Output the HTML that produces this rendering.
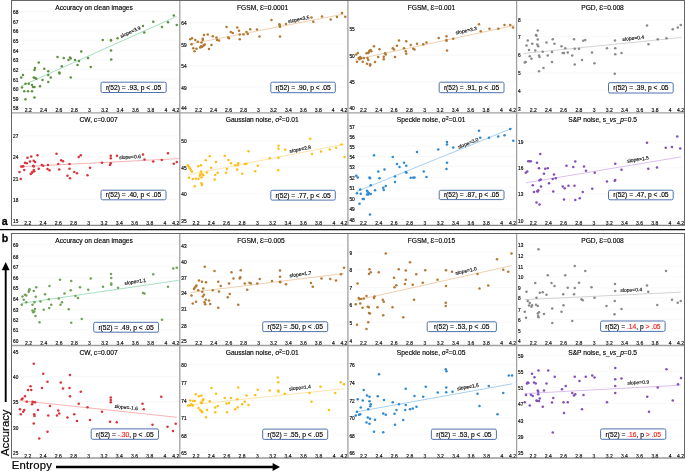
<!DOCTYPE html>
<html><head><meta charset="utf-8"><style>
html,body{margin:0;padding:0;background:#fff;width:685px;height:472px;overflow:hidden}
svg text{font-family:"Liberation Sans", sans-serif}
</style></head><body>
<svg width="685" height="472" viewBox="0 0 685 472" style="position:absolute;left:0;top:0;will-change:transform"><line x1="19.5" y1="11.6" x2="178.8" y2="11.6" stroke="#f7f7f7" stroke-width="0.7"/><line x1="19.5" y1="21.0" x2="178.8" y2="21.0" stroke="#f7f7f7" stroke-width="0.7"/><line x1="19.5" y1="30.9" x2="178.8" y2="30.9" stroke="#f7f7f7" stroke-width="0.7"/><line x1="19.5" y1="40.2" x2="178.8" y2="40.2" stroke="#f7f7f7" stroke-width="0.7"/><line x1="19.5" y1="50.1" x2="178.8" y2="50.1" stroke="#f7f7f7" stroke-width="0.7"/><line x1="19.5" y1="59.8" x2="178.8" y2="59.8" stroke="#f7f7f7" stroke-width="0.7"/><line x1="19.5" y1="69.4" x2="178.8" y2="69.4" stroke="#f7f7f7" stroke-width="0.7"/><line x1="19.5" y1="79.0" x2="178.8" y2="79.0" stroke="#f7f7f7" stroke-width="0.7"/><line x1="19.5" y1="88.1" x2="178.8" y2="88.1" stroke="#f7f7f7" stroke-width="0.7"/><line x1="19.5" y1="98.0" x2="178.8" y2="98.0" stroke="#f7f7f7" stroke-width="0.7"/><line x1="19.5" y1="107.9" x2="178.8" y2="107.9" stroke="#f7f7f7" stroke-width="0.7"/><text x="13.0" y="14.1" font-size="4.75" fill="#111" stroke="#111" stroke-width="0.18">68</text><text x="13.0" y="23.5" font-size="4.75" fill="#111" stroke="#111" stroke-width="0.18">67</text><text x="13.0" y="33.4" font-size="4.75" fill="#111" stroke="#111" stroke-width="0.18">66</text><text x="13.0" y="42.7" font-size="4.75" fill="#111" stroke="#111" stroke-width="0.18">65</text><text x="13.0" y="52.6" font-size="4.75" fill="#111" stroke="#111" stroke-width="0.18">64</text><text x="13.0" y="62.3" font-size="4.75" fill="#111" stroke="#111" stroke-width="0.18">63</text><text x="13.0" y="71.9" font-size="4.75" fill="#111" stroke="#111" stroke-width="0.18">62</text><text x="13.0" y="81.5" font-size="4.75" fill="#111" stroke="#111" stroke-width="0.18">61</text><text x="13.0" y="90.6" font-size="4.75" fill="#111" stroke="#111" stroke-width="0.18">60</text><text x="13.0" y="100.5" font-size="4.75" fill="#111" stroke="#111" stroke-width="0.18">59</text><text x="13.0" y="110.4" font-size="4.75" fill="#111" stroke="#111" stroke-width="0.18">58</text><text x="28.3" y="112.4" font-size="5.0" fill="#111" stroke="#111" stroke-width="0.18" text-anchor="middle">2.2</text><text x="43.6" y="112.4" font-size="5.0" fill="#111" stroke="#111" stroke-width="0.18" text-anchor="middle">2.4</text><text x="58.9" y="112.4" font-size="5.0" fill="#111" stroke="#111" stroke-width="0.18" text-anchor="middle">2.6</text><text x="74.2" y="112.4" font-size="5.0" fill="#111" stroke="#111" stroke-width="0.18" text-anchor="middle">2.8</text><text x="89.5" y="112.4" font-size="5.0" fill="#111" stroke="#111" stroke-width="0.18" text-anchor="middle">3</text><text x="104.8" y="112.4" font-size="5.0" fill="#111" stroke="#111" stroke-width="0.18" text-anchor="middle">3.2</text><text x="120.1" y="112.4" font-size="5.0" fill="#111" stroke="#111" stroke-width="0.18" text-anchor="middle">3.4</text><text x="135.4" y="112.4" font-size="5.0" fill="#111" stroke="#111" stroke-width="0.18" text-anchor="middle">3.6</text><text x="150.7" y="112.4" font-size="5.0" fill="#111" stroke="#111" stroke-width="0.18" text-anchor="middle">3.8</text><text x="166.0" y="112.4" font-size="5.0" fill="#111" stroke="#111" stroke-width="0.18" text-anchor="middle">4</text><text x="175.8" y="112.4" font-size="5.0" fill="#111" stroke="#111" stroke-width="0.18" text-anchor="middle">4.2</text><text x="94.1" y="9.8" font-size="6.65" fill="#000" text-anchor="middle" stroke="#000" stroke-width="0.15">Accuracy on clean images</text><line x1="20.8" y1="86.3" x2="176.5" y2="16.5" stroke="#8ed8b0" stroke-width="0.8"/><text x="130.5" y="33.60" font-size="5.0" fill="#111" stroke="#111" stroke-width="0.15" text-anchor="middle" transform="rotate(-24.1 130.5 32)">slope=3.9</text><circle cx="21.25" cy="77.5" r="1.28" fill="#5f9043"/><circle cx="23.0" cy="75.0" r="1.28" fill="#5f9043"/><circle cx="22.0" cy="87.5" r="1.28" fill="#5f9043"/><circle cx="25.5" cy="83.75" r="1.28" fill="#5f9043"/><circle cx="24.25" cy="91.25" r="1.28" fill="#5f9043"/><circle cx="28.0" cy="91.25" r="1.28" fill="#5f9043"/><circle cx="25.5" cy="99.25" r="1.28" fill="#5f9043"/><circle cx="28.75" cy="83.75" r="1.28" fill="#5f9043"/><circle cx="32.0" cy="85.0" r="1.28" fill="#5f9043"/><circle cx="32.0" cy="91.25" r="1.28" fill="#5f9043"/><circle cx="33.0" cy="87.0" r="1.28" fill="#5f9043"/><circle cx="34.5" cy="87.0" r="1.28" fill="#5f9043"/><circle cx="34.5" cy="97.5" r="1.28" fill="#5f9043"/><circle cx="33.75" cy="77.5" r="1.28" fill="#5f9043"/><circle cx="34.5" cy="70.0" r="1.28" fill="#5f9043"/><circle cx="35.0" cy="68.0" r="1.28" fill="#5f9043"/><circle cx="35.0" cy="78.0" r="1.28" fill="#5f9043"/><circle cx="36.25" cy="78.75" r="1.28" fill="#5f9043"/><circle cx="38.75" cy="62.5" r="1.28" fill="#5f9043"/><circle cx="40.0" cy="86.25" r="1.28" fill="#5f9043"/><circle cx="42.5" cy="80.0" r="1.28" fill="#5f9043"/><circle cx="44.25" cy="68.75" r="1.28" fill="#5f9043"/><circle cx="48.25" cy="71.25" r="1.28" fill="#5f9043"/><circle cx="48.25" cy="75.0" r="1.28" fill="#5f9043"/><circle cx="48.25" cy="82.0" r="1.28" fill="#5f9043"/><circle cx="50.75" cy="77.5" r="1.28" fill="#5f9043"/><circle cx="57.5" cy="57.0" r="1.28" fill="#5f9043"/><circle cx="59.25" cy="72.5" r="1.28" fill="#5f9043"/><circle cx="59.5" cy="73.5" r="1.28" fill="#5f9043"/><circle cx="61.75" cy="66.25" r="1.28" fill="#5f9043"/><circle cx="63.75" cy="58.0" r="1.28" fill="#5f9043"/><circle cx="68.5" cy="60.0" r="1.28" fill="#5f9043"/><circle cx="70.0" cy="57.5" r="1.28" fill="#5f9043"/><circle cx="70.75" cy="58.5" r="1.28" fill="#5f9043"/><circle cx="70.75" cy="77.5" r="1.28" fill="#5f9043"/><circle cx="75.0" cy="60.0" r="1.28" fill="#5f9043"/><circle cx="77.5" cy="65.0" r="1.28" fill="#5f9043"/><circle cx="79.0" cy="61.0" r="1.28" fill="#5f9043"/><circle cx="81.25" cy="51.5" r="1.28" fill="#5f9043"/><circle cx="88.0" cy="58.0" r="1.28" fill="#5f9043"/><circle cx="90.75" cy="67.0" r="1.28" fill="#5f9043"/><circle cx="102.75" cy="40.0" r="1.28" fill="#5f9043"/><circle cx="111.0" cy="40.5" r="1.28" fill="#5f9043"/><circle cx="111.0" cy="40.0" r="1.28" fill="#5f9043"/><circle cx="111.0" cy="50.5" r="1.28" fill="#5f9043"/><circle cx="111.25" cy="59.5" r="1.28" fill="#5f9043"/><circle cx="117.5" cy="38.25" r="1.28" fill="#5f9043"/><circle cx="143.0" cy="26.0" r="1.28" fill="#5f9043"/><circle cx="144.25" cy="32.5" r="1.28" fill="#5f9043"/><circle cx="153.25" cy="21.75" r="1.28" fill="#5f9043"/><circle cx="162.0" cy="27.0" r="1.28" fill="#5f9043"/><circle cx="168.0" cy="22.25" r="1.28" fill="#5f9043"/><circle cx="173.75" cy="15.5" r="1.28" fill="#5f9043"/><circle cx="176.75" cy="25.0" r="1.28" fill="#5f9043"/><rect x="101" y="82.2" width="65.2" height="10.3" rx="1.5" fill="#fff" stroke="#4f72ae" stroke-width="1"/><text x="133.6" y="89.8" font-size="6.7" fill="#000" text-anchor="middle" xml:space="preserve" stroke="#000" stroke-width="0.15">r(52) = .93, p &lt; .05</text><line x1="187.8" y1="22.6" x2="346.9" y2="22.6" stroke="#f7f7f7" stroke-width="0.7"/><line x1="187.8" y1="44.1" x2="346.9" y2="44.1" stroke="#f7f7f7" stroke-width="0.7"/><line x1="187.8" y1="65.7" x2="346.9" y2="65.7" stroke="#f7f7f7" stroke-width="0.7"/><line x1="187.8" y1="87.0" x2="346.9" y2="87.0" stroke="#f7f7f7" stroke-width="0.7"/><line x1="187.8" y1="107.9" x2="346.9" y2="107.9" stroke="#f7f7f7" stroke-width="0.7"/><text x="181.3" y="25.1" font-size="4.75" fill="#111" stroke="#111" stroke-width="0.18">64</text><text x="181.3" y="46.6" font-size="4.75" fill="#111" stroke="#111" stroke-width="0.18">59</text><text x="181.3" y="68.2" font-size="4.75" fill="#111" stroke="#111" stroke-width="0.18">54</text><text x="181.3" y="89.5" font-size="4.75" fill="#111" stroke="#111" stroke-width="0.18">49</text><text x="181.3" y="110.4" font-size="4.75" fill="#111" stroke="#111" stroke-width="0.18">44</text><text x="198.6" y="112.4" font-size="5.0" fill="#111" stroke="#111" stroke-width="0.18" text-anchor="middle">2.2</text><text x="213.6" y="112.4" font-size="5.0" fill="#111" stroke="#111" stroke-width="0.18" text-anchor="middle">2.4</text><text x="228.5" y="112.4" font-size="5.0" fill="#111" stroke="#111" stroke-width="0.18" text-anchor="middle">2.6</text><text x="243.5" y="112.4" font-size="5.0" fill="#111" stroke="#111" stroke-width="0.18" text-anchor="middle">2.8</text><text x="258.4" y="112.4" font-size="5.0" fill="#111" stroke="#111" stroke-width="0.18" text-anchor="middle">3</text><text x="273.4" y="112.4" font-size="5.0" fill="#111" stroke="#111" stroke-width="0.18" text-anchor="middle">3.2</text><text x="288.4" y="112.4" font-size="5.0" fill="#111" stroke="#111" stroke-width="0.18" text-anchor="middle">3.4</text><text x="303.3" y="112.4" font-size="5.0" fill="#111" stroke="#111" stroke-width="0.18" text-anchor="middle">3.6</text><text x="318.3" y="112.4" font-size="5.0" fill="#111" stroke="#111" stroke-width="0.18" text-anchor="middle">3.8</text><text x="333.2" y="112.4" font-size="5.0" fill="#111" stroke="#111" stroke-width="0.18" text-anchor="middle">4</text><text x="343.9" y="112.4" font-size="5.0" fill="#111" stroke="#111" stroke-width="0.18" text-anchor="middle">4.2</text><text x="262.6" y="9.8" font-size="6.65" fill="#000" text-anchor="middle" stroke="#000" stroke-width="0.15">FGSM, Ɛ=0.0001</text><line x1="189.8" y1="44.1" x2="344.3" y2="14" stroke="#ebc49a" stroke-width="0.8"/><text x="298.75" y="21.10" font-size="5.0" fill="#111" stroke="#111" stroke-width="0.15" text-anchor="middle" transform="rotate(-11.0 298.75 19.5)">slope=3.5</text><circle cx="190.25" cy="39.25" r="1.28" fill="#b27a35"/><circle cx="192.0" cy="38.25" r="1.28" fill="#b27a35"/><circle cx="191.5" cy="44.25" r="1.28" fill="#b27a35"/><circle cx="193.25" cy="48.25" r="1.28" fill="#b27a35"/><circle cx="194.5" cy="51.25" r="1.28" fill="#b27a35"/><circle cx="195.25" cy="40.0" r="1.28" fill="#b27a35"/><circle cx="196.5" cy="48.75" r="1.28" fill="#b27a35"/><circle cx="197.75" cy="41.75" r="1.28" fill="#b27a35"/><circle cx="200.25" cy="47.5" r="1.28" fill="#b27a35"/><circle cx="201.5" cy="42.5" r="1.28" fill="#b27a35"/><circle cx="202.0" cy="47.0" r="1.28" fill="#b27a35"/><circle cx="202.75" cy="40.0" r="1.28" fill="#b27a35"/><circle cx="202.75" cy="38.75" r="1.28" fill="#b27a35"/><circle cx="203.5" cy="45.75" r="1.28" fill="#b27a35"/><circle cx="204.0" cy="45.0" r="1.28" fill="#b27a35"/><circle cx="204.0" cy="35.0" r="1.28" fill="#b27a35"/><circle cx="204.75" cy="44.5" r="1.28" fill="#b27a35"/><circle cx="207.75" cy="34.5" r="1.28" fill="#b27a35"/><circle cx="209.0" cy="49.0" r="1.28" fill="#b27a35"/><circle cx="211.5" cy="45.0" r="1.28" fill="#b27a35"/><circle cx="212.75" cy="36.25" r="1.28" fill="#b27a35"/><circle cx="216.5" cy="37.5" r="1.28" fill="#b27a35"/><circle cx="217.0" cy="40.0" r="1.28" fill="#b27a35"/><circle cx="219.0" cy="40.5" r="1.28" fill="#b27a35"/><circle cx="226.5" cy="27.0" r="1.28" fill="#b27a35"/><circle cx="228.25" cy="37.5" r="1.28" fill="#b27a35"/><circle cx="229.0" cy="38.25" r="1.28" fill="#b27a35"/><circle cx="230.75" cy="32.0" r="1.28" fill="#b27a35"/><circle cx="232.75" cy="33.0" r="1.28" fill="#b27a35"/><circle cx="237.25" cy="27.5" r="1.28" fill="#b27a35"/><circle cx="239.0" cy="30.75" r="1.28" fill="#b27a35"/><circle cx="239.75" cy="34.5" r="1.28" fill="#b27a35"/><circle cx="239.75" cy="39.25" r="1.28" fill="#b27a35"/><circle cx="243.5" cy="34.5" r="1.28" fill="#b27a35"/><circle cx="246.5" cy="32.0" r="1.28" fill="#b27a35"/><circle cx="247.75" cy="34.0" r="1.28" fill="#b27a35"/><circle cx="250.25" cy="29.25" r="1.28" fill="#b27a35"/><circle cx="257.0" cy="29.5" r="1.28" fill="#b27a35"/><circle cx="259.5" cy="36.5" r="1.28" fill="#b27a35"/><circle cx="271.5" cy="20.0" r="1.28" fill="#b27a35"/><circle cx="279.5" cy="24.25" r="1.28" fill="#b27a35"/><circle cx="279.75" cy="25.75" r="1.28" fill="#b27a35"/><circle cx="280.0" cy="26.75" r="1.28" fill="#b27a35"/><circle cx="280.0" cy="36.5" r="1.28" fill="#b27a35"/><circle cx="286.0" cy="24.0" r="1.28" fill="#b27a35"/><circle cx="311.5" cy="17.5" r="1.28" fill="#b27a35"/><circle cx="313.25" cy="21.75" r="1.28" fill="#b27a35"/><circle cx="322.0" cy="16.5" r="1.28" fill="#b27a35"/><circle cx="330.75" cy="19.5" r="1.28" fill="#b27a35"/><circle cx="337.0" cy="17.0" r="1.28" fill="#b27a35"/><circle cx="342.0" cy="13.0" r="1.28" fill="#b27a35"/><circle cx="345.25" cy="16.75" r="1.28" fill="#b27a35"/><circle cx="279.75" cy="25.0" r="1.28" fill="#b27a35"/><circle cx="201.0" cy="46.25" r="1.28" fill="#b27a35"/><rect x="270.8" y="82.2" width="64.5" height="10.5" rx="1.5" fill="#fff" stroke="#4f72ae" stroke-width="1"/><text x="303.1" y="89.9" font-size="6.7" fill="#000" text-anchor="middle" xml:space="preserve" stroke="#000" stroke-width="0.15">r(52) = .90, p &lt; .05</text><line x1="355.9" y1="28.7" x2="515.6" y2="28.7" stroke="#f7f7f7" stroke-width="0.7"/><line x1="355.9" y1="55.2" x2="515.6" y2="55.2" stroke="#f7f7f7" stroke-width="0.7"/><line x1="355.9" y1="81.7" x2="515.6" y2="81.7" stroke="#f7f7f7" stroke-width="0.7"/><line x1="355.9" y1="107.9" x2="515.6" y2="107.9" stroke="#f7f7f7" stroke-width="0.7"/><text x="349.4" y="31.2" font-size="4.75" fill="#111" stroke="#111" stroke-width="0.18">55</text><text x="349.4" y="57.7" font-size="4.75" fill="#111" stroke="#111" stroke-width="0.18">50</text><text x="349.4" y="84.2" font-size="4.75" fill="#111" stroke="#111" stroke-width="0.18">45</text><text x="349.4" y="110.4" font-size="4.75" fill="#111" stroke="#111" stroke-width="0.18">40</text><text x="363.4" y="112.4" font-size="5.0" fill="#111" stroke="#111" stroke-width="0.18" text-anchor="middle">2.2</text><text x="378.7" y="112.4" font-size="5.0" fill="#111" stroke="#111" stroke-width="0.18" text-anchor="middle">2.4</text><text x="394.0" y="112.4" font-size="5.0" fill="#111" stroke="#111" stroke-width="0.18" text-anchor="middle">2.6</text><text x="409.4" y="112.4" font-size="5.0" fill="#111" stroke="#111" stroke-width="0.18" text-anchor="middle">2.8</text><text x="424.7" y="112.4" font-size="5.0" fill="#111" stroke="#111" stroke-width="0.18" text-anchor="middle">3</text><text x="440.0" y="112.4" font-size="5.0" fill="#111" stroke="#111" stroke-width="0.18" text-anchor="middle">3.2</text><text x="455.3" y="112.4" font-size="5.0" fill="#111" stroke="#111" stroke-width="0.18" text-anchor="middle">3.4</text><text x="470.6" y="112.4" font-size="5.0" fill="#111" stroke="#111" stroke-width="0.18" text-anchor="middle">3.6</text><text x="486.0" y="112.4" font-size="5.0" fill="#111" stroke="#111" stroke-width="0.18" text-anchor="middle">3.8</text><text x="501.3" y="112.4" font-size="5.0" fill="#111" stroke="#111" stroke-width="0.18" text-anchor="middle">4</text><text x="512.6" y="112.4" font-size="5.0" fill="#111" stroke="#111" stroke-width="0.18" text-anchor="middle">4.2</text><text x="431.4" y="9.8" font-size="6.65" fill="#000" text-anchor="middle" stroke="#000" stroke-width="0.15">FGSM, Ɛ=0.001</text><line x1="355.4" y1="59.6" x2="514.8" y2="25.3" stroke="#ebc49a" stroke-width="0.8"/><text x="466.25" y="32.35" font-size="5.0" fill="#111" stroke="#111" stroke-width="0.15" text-anchor="middle" transform="rotate(-12.1 466.25 30.75)">slope=3.3</text><circle cx="356.25" cy="54.5" r="1.28" fill="#b27a35"/><circle cx="357.75" cy="53.0" r="1.28" fill="#b27a35"/><circle cx="357.0" cy="61.75" r="1.28" fill="#b27a35"/><circle cx="358.75" cy="58.0" r="1.28" fill="#b27a35"/><circle cx="359.5" cy="59.25" r="1.28" fill="#b27a35"/><circle cx="360.25" cy="57.0" r="1.28" fill="#b27a35"/><circle cx="361.25" cy="58.25" r="1.28" fill="#b27a35"/><circle cx="362.75" cy="61.75" r="1.28" fill="#b27a35"/><circle cx="363.75" cy="58.0" r="1.28" fill="#b27a35"/><circle cx="366.5" cy="53.25" r="1.28" fill="#b27a35"/><circle cx="367.0" cy="63.75" r="1.28" fill="#b27a35"/><circle cx="367.5" cy="58.0" r="1.28" fill="#b27a35"/><circle cx="368.25" cy="53.0" r="1.28" fill="#b27a35"/><circle cx="368.25" cy="60.0" r="1.28" fill="#b27a35"/><circle cx="369.0" cy="51.75" r="1.28" fill="#b27a35"/><circle cx="369.5" cy="50.75" r="1.28" fill="#b27a35"/><circle cx="370.0" cy="65.5" r="1.28" fill="#b27a35"/><circle cx="370.25" cy="64.25" r="1.28" fill="#b27a35"/><circle cx="370.75" cy="50.0" r="1.28" fill="#b27a35"/><circle cx="371.25" cy="51.25" r="1.28" fill="#b27a35"/><circle cx="374.0" cy="46.25" r="1.28" fill="#b27a35"/><circle cx="375.0" cy="62.0" r="1.28" fill="#b27a35"/><circle cx="378.25" cy="57.0" r="1.28" fill="#b27a35"/><circle cx="379.5" cy="49.25" r="1.28" fill="#b27a35"/><circle cx="383.75" cy="59.25" r="1.28" fill="#b27a35"/><circle cx="383.75" cy="56.75" r="1.28" fill="#b27a35"/><circle cx="385.0" cy="53.25" r="1.28" fill="#b27a35"/><circle cx="385.75" cy="54.5" r="1.28" fill="#b27a35"/><circle cx="392.75" cy="48.25" r="1.28" fill="#b27a35"/><circle cx="394.0" cy="49.5" r="1.28" fill="#b27a35"/><circle cx="395.0" cy="57.0" r="1.28" fill="#b27a35"/><circle cx="397.0" cy="45.75" r="1.28" fill="#b27a35"/><circle cx="399.0" cy="40.5" r="1.28" fill="#b27a35"/><circle cx="404.0" cy="48.25" r="1.28" fill="#b27a35"/><circle cx="405.75" cy="51.25" r="1.28" fill="#b27a35"/><circle cx="406.25" cy="53.75" r="1.28" fill="#b27a35"/><circle cx="406.25" cy="41.25" r="1.28" fill="#b27a35"/><circle cx="410.75" cy="45.0" r="1.28" fill="#b27a35"/><circle cx="413.25" cy="48.75" r="1.28" fill="#b27a35"/><circle cx="414.5" cy="49.5" r="1.28" fill="#b27a35"/><circle cx="417.0" cy="43.75" r="1.28" fill="#b27a35"/><circle cx="423.25" cy="44.25" r="1.28" fill="#b27a35"/><circle cx="426.5" cy="42.5" r="1.28" fill="#b27a35"/><circle cx="438.75" cy="38.0" r="1.28" fill="#b27a35"/><circle cx="446.5" cy="36.25" r="1.28" fill="#b27a35"/><circle cx="446.5" cy="40.0" r="1.28" fill="#b27a35"/><circle cx="446.5" cy="40.75" r="1.28" fill="#b27a35"/><circle cx="447.0" cy="50.5" r="1.28" fill="#b27a35"/><circle cx="453.25" cy="38.75" r="1.28" fill="#b27a35"/><circle cx="479.0" cy="24.25" r="1.28" fill="#b27a35"/><circle cx="480.75" cy="31.25" r="1.28" fill="#b27a35"/><circle cx="489.5" cy="28.75" r="1.28" fill="#b27a35"/><circle cx="498.25" cy="28.75" r="1.28" fill="#b27a35"/><circle cx="504.5" cy="25.0" r="1.28" fill="#b27a35"/><circle cx="510.25" cy="25.0" r="1.28" fill="#b27a35"/><circle cx="513.0" cy="27.5" r="1.28" fill="#b27a35"/><rect x="439.2" y="82.2" width="64.8" height="10.5" rx="1.5" fill="#fff" stroke="#4f72ae" stroke-width="1"/><text x="471.6" y="89.9" font-size="6.7" fill="#000" text-anchor="middle" xml:space="preserve" stroke="#000" stroke-width="0.15">r(52) = .91, p &lt; .05</text><line x1="524.6" y1="19.7" x2="683.5" y2="19.7" stroke="#f7f7f7" stroke-width="0.7"/><line x1="524.6" y1="36.5" x2="683.5" y2="36.5" stroke="#f7f7f7" stroke-width="0.7"/><line x1="524.6" y1="54.8" x2="683.5" y2="54.8" stroke="#f7f7f7" stroke-width="0.7"/><line x1="524.6" y1="72.8" x2="683.5" y2="72.8" stroke="#f7f7f7" stroke-width="0.7"/><line x1="524.6" y1="90.0" x2="683.5" y2="90.0" stroke="#f7f7f7" stroke-width="0.7"/><line x1="524.6" y1="108.0" x2="683.5" y2="108.0" stroke="#f7f7f7" stroke-width="0.7"/><text x="518.1" y="22.2" font-size="4.75" fill="#111" stroke="#111" stroke-width="0.18">8</text><text x="518.1" y="39.0" font-size="4.75" fill="#111" stroke="#111" stroke-width="0.18">7</text><text x="518.1" y="57.3" font-size="4.75" fill="#111" stroke="#111" stroke-width="0.18">6</text><text x="518.1" y="75.3" font-size="4.75" fill="#111" stroke="#111" stroke-width="0.18">5</text><text x="518.1" y="92.5" font-size="4.75" fill="#111" stroke="#111" stroke-width="0.18">4</text><text x="518.1" y="110.5" font-size="4.75" fill="#111" stroke="#111" stroke-width="0.18">3</text><text x="533.2" y="112.4" font-size="5.0" fill="#111" stroke="#111" stroke-width="0.18" text-anchor="middle">2.2</text><text x="548.4" y="112.4" font-size="5.0" fill="#111" stroke="#111" stroke-width="0.18" text-anchor="middle">2.4</text><text x="563.6" y="112.4" font-size="5.0" fill="#111" stroke="#111" stroke-width="0.18" text-anchor="middle">2.6</text><text x="578.9" y="112.4" font-size="5.0" fill="#111" stroke="#111" stroke-width="0.18" text-anchor="middle">2.8</text><text x="594.1" y="112.4" font-size="5.0" fill="#111" stroke="#111" stroke-width="0.18" text-anchor="middle">3</text><text x="609.3" y="112.4" font-size="5.0" fill="#111" stroke="#111" stroke-width="0.18" text-anchor="middle">3.2</text><text x="624.5" y="112.4" font-size="5.0" fill="#111" stroke="#111" stroke-width="0.18" text-anchor="middle">3.4</text><text x="639.7" y="112.4" font-size="5.0" fill="#111" stroke="#111" stroke-width="0.18" text-anchor="middle">3.6</text><text x="655.0" y="112.4" font-size="5.0" fill="#111" stroke="#111" stroke-width="0.18" text-anchor="middle">3.8</text><text x="670.2" y="112.4" font-size="5.0" fill="#111" stroke="#111" stroke-width="0.18" text-anchor="middle">4</text><text x="680.5" y="112.4" font-size="5.0" fill="#111" stroke="#111" stroke-width="0.18" text-anchor="middle">4.2</text><text x="602.5" y="9.8" font-size="6.65" fill="#000" text-anchor="middle" stroke="#000" stroke-width="0.15">PGD, Ɛ=0.008</text><line x1="523.4" y1="53.5" x2="681.3" y2="37.5" stroke="#c8c8c8" stroke-width="0.8"/><text x="633.25" y="39.85" font-size="5.0" fill="#111" stroke="#111" stroke-width="0.15" text-anchor="middle" transform="rotate(-5.8 633.25 38.25)">slope=0.4</text><circle cx="524.75" cy="62.5" r="1.28" fill="#8a8a8a"/><circle cx="525.75" cy="62.0" r="1.28" fill="#8a8a8a"/><circle cx="526.5" cy="45.5" r="1.28" fill="#8a8a8a"/><circle cx="527.75" cy="40.5" r="1.28" fill="#8a8a8a"/><circle cx="529.0" cy="50.0" r="1.28" fill="#8a8a8a"/><circle cx="529.75" cy="56.25" r="1.28" fill="#8a8a8a"/><circle cx="531.5" cy="58.75" r="1.28" fill="#8a8a8a"/><circle cx="532.25" cy="43.75" r="1.28" fill="#8a8a8a"/><circle cx="535.25" cy="50.5" r="1.28" fill="#8a8a8a"/><circle cx="536.0" cy="35.0" r="1.28" fill="#8a8a8a"/><circle cx="536.5" cy="35.75" r="1.28" fill="#8a8a8a"/><circle cx="537.25" cy="44.5" r="1.28" fill="#8a8a8a"/><circle cx="537.75" cy="30.5" r="1.28" fill="#8a8a8a"/><circle cx="537.75" cy="39.5" r="1.28" fill="#8a8a8a"/><circle cx="538.25" cy="46.25" r="1.28" fill="#8a8a8a"/><circle cx="539.0" cy="55.5" r="1.28" fill="#8a8a8a"/><circle cx="539.5" cy="57.0" r="1.28" fill="#8a8a8a"/><circle cx="539.0" cy="71.25" r="1.28" fill="#8a8a8a"/><circle cx="542.75" cy="51.75" r="1.28" fill="#8a8a8a"/><circle cx="543.5" cy="68.0" r="1.28" fill="#8a8a8a"/><circle cx="546.5" cy="42.5" r="1.28" fill="#8a8a8a"/><circle cx="547.75" cy="55.5" r="1.28" fill="#8a8a8a"/><circle cx="552.0" cy="62.0" r="1.28" fill="#8a8a8a"/><circle cx="552.0" cy="52.0" r="1.28" fill="#8a8a8a"/><circle cx="552.75" cy="39.25" r="1.28" fill="#8a8a8a"/><circle cx="554.5" cy="43.75" r="1.28" fill="#8a8a8a"/><circle cx="561.5" cy="46.25" r="1.28" fill="#8a8a8a"/><circle cx="562.75" cy="53.0" r="1.28" fill="#8a8a8a"/><circle cx="564.0" cy="53.0" r="1.28" fill="#8a8a8a"/><circle cx="565.25" cy="48.25" r="1.28" fill="#8a8a8a"/><circle cx="567.75" cy="52.5" r="1.28" fill="#8a8a8a"/><circle cx="572.25" cy="55.5" r="1.28" fill="#8a8a8a"/><circle cx="574.0" cy="39.25" r="1.28" fill="#8a8a8a"/><circle cx="574.75" cy="48.75" r="1.28" fill="#8a8a8a"/><circle cx="574.75" cy="64.5" r="1.28" fill="#8a8a8a"/><circle cx="579.0" cy="48.75" r="1.28" fill="#8a8a8a"/><circle cx="582.0" cy="60.0" r="1.28" fill="#8a8a8a"/><circle cx="583.25" cy="40.75" r="1.28" fill="#8a8a8a"/><circle cx="585.25" cy="40.0" r="1.28" fill="#8a8a8a"/><circle cx="592.0" cy="52.5" r="1.28" fill="#8a8a8a"/><circle cx="594.5" cy="63.25" r="1.28" fill="#8a8a8a"/><circle cx="607.0" cy="48.25" r="1.28" fill="#8a8a8a"/><circle cx="615.0" cy="40.5" r="1.28" fill="#8a8a8a"/><circle cx="615.25" cy="48.25" r="1.28" fill="#8a8a8a"/><circle cx="615.25" cy="54.25" r="1.28" fill="#8a8a8a"/><circle cx="614.75" cy="73.75" r="1.28" fill="#8a8a8a"/><circle cx="621.5" cy="53.0" r="1.28" fill="#8a8a8a"/><circle cx="647.0" cy="25.5" r="1.28" fill="#8a8a8a"/><circle cx="648.5" cy="44.25" r="1.28" fill="#8a8a8a"/><circle cx="657.75" cy="39.25" r="1.28" fill="#8a8a8a"/><circle cx="666.5" cy="38.25" r="1.28" fill="#8a8a8a"/><circle cx="672.75" cy="29.25" r="1.28" fill="#8a8a8a"/><circle cx="677.75" cy="27.5" r="1.28" fill="#8a8a8a"/><circle cx="680.75" cy="25.0" r="1.28" fill="#8a8a8a"/><rect x="608.5" y="82.7" width="64.7" height="10.3" rx="1.5" fill="#fff" stroke="#4f72ae" stroke-width="1"/><text x="640.9" y="90.2" font-size="6.7" fill="#000" text-anchor="middle" xml:space="preserve" stroke="#000" stroke-width="0.15">r(52) = .39, p &lt; .05</text><line x1="19.5" y1="135.7" x2="178.8" y2="135.7" stroke="#f7f7f7" stroke-width="0.7"/><line x1="19.5" y1="156.9" x2="178.8" y2="156.9" stroke="#f7f7f7" stroke-width="0.7"/><line x1="19.5" y1="178.4" x2="178.8" y2="178.4" stroke="#f7f7f7" stroke-width="0.7"/><line x1="19.5" y1="199.4" x2="178.8" y2="199.4" stroke="#f7f7f7" stroke-width="0.7"/><line x1="19.5" y1="220.8" x2="178.8" y2="220.8" stroke="#f7f7f7" stroke-width="0.7"/><text x="13.0" y="138.2" font-size="4.75" fill="#111" stroke="#111" stroke-width="0.18">27</text><text x="13.0" y="159.4" font-size="4.75" fill="#111" stroke="#111" stroke-width="0.18">24</text><text x="13.0" y="180.9" font-size="4.75" fill="#111" stroke="#111" stroke-width="0.18">21</text><text x="13.0" y="201.9" font-size="4.75" fill="#111" stroke="#111" stroke-width="0.18">18</text><text x="13.0" y="223.3" font-size="4.75" fill="#111" stroke="#111" stroke-width="0.18">15</text><text x="27.7" y="224.9" font-size="5.0" fill="#111" stroke="#111" stroke-width="0.18" text-anchor="middle">2.2</text><text x="43.0" y="224.9" font-size="5.0" fill="#111" stroke="#111" stroke-width="0.18" text-anchor="middle">2.4</text><text x="58.2" y="224.9" font-size="5.0" fill="#111" stroke="#111" stroke-width="0.18" text-anchor="middle">2.6</text><text x="73.5" y="224.9" font-size="5.0" fill="#111" stroke="#111" stroke-width="0.18" text-anchor="middle">2.8</text><text x="88.7" y="224.9" font-size="5.0" fill="#111" stroke="#111" stroke-width="0.18" text-anchor="middle">3</text><text x="104.0" y="224.9" font-size="5.0" fill="#111" stroke="#111" stroke-width="0.18" text-anchor="middle">3.2</text><text x="119.3" y="224.9" font-size="5.0" fill="#111" stroke="#111" stroke-width="0.18" text-anchor="middle">3.4</text><text x="134.5" y="224.9" font-size="5.0" fill="#111" stroke="#111" stroke-width="0.18" text-anchor="middle">3.6</text><text x="149.8" y="224.9" font-size="5.0" fill="#111" stroke="#111" stroke-width="0.18" text-anchor="middle">3.8</text><text x="165.0" y="224.9" font-size="5.0" fill="#111" stroke="#111" stroke-width="0.18" text-anchor="middle">4</text><text x="175.8" y="224.9" font-size="5.0" fill="#111" stroke="#111" stroke-width="0.18" text-anchor="middle">4.2</text><text x="98.6" y="122.4" font-size="6.65" fill="#000" text-anchor="middle" stroke="#000" stroke-width="0.15">CW, c=0.007</text><line x1="19.6" y1="166.8" x2="178.8" y2="158.6" stroke="#f4a0a0" stroke-width="0.8"/><text x="130" y="158.60" font-size="5.0" fill="#111" stroke="#111" stroke-width="0.15" text-anchor="middle" transform="rotate(-2.9 130 157)">slope=0.6</text><circle cx="19.5" cy="172.0" r="1.28" fill="#d8363c"/><circle cx="20.75" cy="179.0" r="1.28" fill="#d8363c"/><circle cx="21.25" cy="166.5" r="1.28" fill="#d8363c"/><circle cx="22.5" cy="166.5" r="1.28" fill="#d8363c"/><circle cx="23.25" cy="166.25" r="1.28" fill="#d8363c"/><circle cx="24.25" cy="170.0" r="1.28" fill="#d8363c"/><circle cx="25.0" cy="162.75" r="1.28" fill="#d8363c"/><circle cx="26.75" cy="163.25" r="1.28" fill="#d8363c"/><circle cx="27.5" cy="157.75" r="1.28" fill="#d8363c"/><circle cx="30.0" cy="161.5" r="1.28" fill="#d8363c"/><circle cx="30.75" cy="174.0" r="1.28" fill="#d8363c"/><circle cx="31.25" cy="156.5" r="1.28" fill="#d8363c"/><circle cx="32.0" cy="172.75" r="1.28" fill="#d8363c"/><circle cx="32.5" cy="172.0" r="1.28" fill="#d8363c"/><circle cx="33.25" cy="165.75" r="1.28" fill="#d8363c"/><circle cx="33.75" cy="166.5" r="1.28" fill="#d8363c"/><circle cx="33.75" cy="160.75" r="1.28" fill="#d8363c"/><circle cx="33.75" cy="170.0" r="1.28" fill="#d8363c"/><circle cx="34.25" cy="171.25" r="1.28" fill="#d8363c"/><circle cx="35.0" cy="162.0" r="1.28" fill="#d8363c"/><circle cx="37.5" cy="155.25" r="1.28" fill="#d8363c"/><circle cx="38.75" cy="168.75" r="1.28" fill="#d8363c"/><circle cx="41.75" cy="165.0" r="1.28" fill="#d8363c"/><circle cx="43.25" cy="165.75" r="1.28" fill="#d8363c"/><circle cx="47.5" cy="169.0" r="1.28" fill="#d8363c"/><circle cx="48.0" cy="165.0" r="1.28" fill="#d8363c"/><circle cx="49.5" cy="170.25" r="1.28" fill="#d8363c"/><circle cx="56.5" cy="153.75" r="1.28" fill="#d8363c"/><circle cx="58.25" cy="164.0" r="1.28" fill="#d8363c"/><circle cx="59.25" cy="169.5" r="1.28" fill="#d8363c"/><circle cx="61.25" cy="160.25" r="1.28" fill="#d8363c"/><circle cx="63.0" cy="161.25" r="1.28" fill="#d8363c"/><circle cx="67.5" cy="175.75" r="1.28" fill="#d8363c"/><circle cx="69.5" cy="164.0" r="1.28" fill="#d8363c"/><circle cx="69.5" cy="168.75" r="1.28" fill="#d8363c"/><circle cx="70.0" cy="178.25" r="1.28" fill="#d8363c"/><circle cx="74.25" cy="172.0" r="1.28" fill="#d8363c"/><circle cx="77.0" cy="173.25" r="1.28" fill="#d8363c"/><circle cx="78.75" cy="157.0" r="1.28" fill="#d8363c"/><circle cx="80.75" cy="155.25" r="1.28" fill="#d8363c"/><circle cx="87.5" cy="175.25" r="1.28" fill="#d8363c"/><circle cx="90.0" cy="167.75" r="1.28" fill="#d8363c"/><circle cx="102.0" cy="162.75" r="1.28" fill="#d8363c"/><circle cx="110.75" cy="155.75" r="1.28" fill="#d8363c"/><circle cx="110.75" cy="158.25" r="1.28" fill="#d8363c"/><circle cx="110.75" cy="163.25" r="1.28" fill="#d8363c"/><circle cx="110.0" cy="165.0" r="1.28" fill="#d8363c"/><circle cx="117.0" cy="155.75" r="1.28" fill="#d8363c"/><circle cx="143.0" cy="154.5" r="1.28" fill="#d8363c"/><circle cx="144.5" cy="159.5" r="1.28" fill="#d8363c"/><circle cx="153.25" cy="161.5" r="1.28" fill="#d8363c"/><circle cx="161.75" cy="160.0" r="1.28" fill="#d8363c"/><circle cx="168.0" cy="153.25" r="1.28" fill="#d8363c"/><circle cx="173.75" cy="163.75" r="1.28" fill="#d8363c"/><circle cx="176.75" cy="162.0" r="1.28" fill="#d8363c"/><rect x="101" y="190.2" width="65.0" height="9.6" rx="1.5" fill="#fff" stroke="#4f72ae" stroke-width="1"/><text x="133.5" y="197.4" font-size="6.7" fill="#000" text-anchor="middle" xml:space="preserve" stroke="#000" stroke-width="0.15">r(52) = .40, p &lt; .05</text><line x1="187.8" y1="140.7" x2="346.9" y2="140.7" stroke="#f7f7f7" stroke-width="0.7"/><line x1="187.8" y1="167.0" x2="346.9" y2="167.0" stroke="#f7f7f7" stroke-width="0.7"/><line x1="187.8" y1="193.5" x2="346.9" y2="193.5" stroke="#f7f7f7" stroke-width="0.7"/><line x1="187.8" y1="220.2" x2="346.9" y2="220.2" stroke="#f7f7f7" stroke-width="0.7"/><text x="181.3" y="143.2" font-size="4.75" fill="#111" stroke="#111" stroke-width="0.18">50</text><text x="181.3" y="169.5" font-size="4.75" fill="#111" stroke="#111" stroke-width="0.18">45</text><text x="181.3" y="196.0" font-size="4.75" fill="#111" stroke="#111" stroke-width="0.18">40</text><text x="181.3" y="222.7" font-size="4.75" fill="#111" stroke="#111" stroke-width="0.18">35</text><text x="196.0" y="224.9" font-size="5.0" fill="#111" stroke="#111" stroke-width="0.18" text-anchor="middle">2.2</text><text x="211.3" y="224.9" font-size="5.0" fill="#111" stroke="#111" stroke-width="0.18" text-anchor="middle">2.4</text><text x="226.6" y="224.9" font-size="5.0" fill="#111" stroke="#111" stroke-width="0.18" text-anchor="middle">2.6</text><text x="242.0" y="224.9" font-size="5.0" fill="#111" stroke="#111" stroke-width="0.18" text-anchor="middle">2.8</text><text x="257.3" y="224.9" font-size="5.0" fill="#111" stroke="#111" stroke-width="0.18" text-anchor="middle">3</text><text x="272.6" y="224.9" font-size="5.0" fill="#111" stroke="#111" stroke-width="0.18" text-anchor="middle">3.2</text><text x="287.9" y="224.9" font-size="5.0" fill="#111" stroke="#111" stroke-width="0.18" text-anchor="middle">3.4</text><text x="303.2" y="224.9" font-size="5.0" fill="#111" stroke="#111" stroke-width="0.18" text-anchor="middle">3.6</text><text x="318.6" y="224.9" font-size="5.0" fill="#111" stroke="#111" stroke-width="0.18" text-anchor="middle">3.8</text><text x="333.9" y="224.9" font-size="5.0" fill="#111" stroke="#111" stroke-width="0.18" text-anchor="middle">4</text><text x="343.9" y="224.9" font-size="5.0" fill="#111" stroke="#111" stroke-width="0.18" text-anchor="middle">4.2</text><text x="262.2" y="122.4" font-size="6.65" fill="#000" text-anchor="middle" stroke="#000" stroke-width="0.15">Gaussian noise, σ<tspan font-size="4.6" dy="-2.3">2</tspan><tspan dy="2.3">=0.01</tspan></text><line x1="187.4" y1="175" x2="344.3" y2="144.2" stroke="#ffdc98" stroke-width="0.8"/><text x="300.25" y="150.85" font-size="5.0" fill="#111" stroke="#111" stroke-width="0.15" text-anchor="middle" transform="rotate(-11.1 300.25 149.25)">slope=2.8</text><circle cx="187.75" cy="165.25" r="1.28" fill="#fdbf1c"/><circle cx="189.0" cy="167.0" r="1.28" fill="#fdbf1c"/><circle cx="189.75" cy="168.25" r="1.28" fill="#fdbf1c"/><circle cx="190.75" cy="170.0" r="1.28" fill="#fdbf1c"/><circle cx="192.0" cy="171.5" r="1.28" fill="#fdbf1c"/><circle cx="189.0" cy="177.75" r="1.28" fill="#fdbf1c"/><circle cx="192.75" cy="179.0" r="1.28" fill="#fdbf1c"/><circle cx="194.75" cy="186.25" r="1.28" fill="#fdbf1c"/><circle cx="195.75" cy="178.75" r="1.28" fill="#fdbf1c"/><circle cx="198.25" cy="166.25" r="1.28" fill="#fdbf1c"/><circle cx="198.5" cy="178.75" r="1.28" fill="#fdbf1c"/><circle cx="199.75" cy="175.75" r="1.28" fill="#fdbf1c"/><circle cx="200.25" cy="174.5" r="1.28" fill="#fdbf1c"/><circle cx="201.0" cy="165.25" r="1.28" fill="#fdbf1c"/><circle cx="201.0" cy="171.5" r="1.28" fill="#fdbf1c"/><circle cx="201.5" cy="177.5" r="1.28" fill="#fdbf1c"/><circle cx="201.5" cy="183.25" r="1.28" fill="#fdbf1c"/><circle cx="202.0" cy="185.0" r="1.28" fill="#fdbf1c"/><circle cx="202.25" cy="174.0" r="1.28" fill="#fdbf1c"/><circle cx="203.25" cy="175.25" r="1.28" fill="#fdbf1c"/><circle cx="205.75" cy="160.25" r="1.28" fill="#fdbf1c"/><circle cx="207.0" cy="172.5" r="1.28" fill="#fdbf1c"/><circle cx="209.75" cy="156.25" r="1.28" fill="#fdbf1c"/><circle cx="211.0" cy="167.75" r="1.28" fill="#fdbf1c"/><circle cx="214.75" cy="179.5" r="1.28" fill="#fdbf1c"/><circle cx="215.25" cy="175.0" r="1.28" fill="#fdbf1c"/><circle cx="216.0" cy="162.0" r="1.28" fill="#fdbf1c"/><circle cx="217.75" cy="172.75" r="1.28" fill="#fdbf1c"/><circle cx="224.75" cy="155.75" r="1.28" fill="#fdbf1c"/><circle cx="226.0" cy="172.75" r="1.28" fill="#fdbf1c"/><circle cx="227.0" cy="169.0" r="1.28" fill="#fdbf1c"/><circle cx="228.5" cy="160.0" r="1.28" fill="#fdbf1c"/><circle cx="231.0" cy="163.25" r="1.28" fill="#fdbf1c"/><circle cx="235.25" cy="165.25" r="1.28" fill="#fdbf1c"/><circle cx="237.25" cy="169.5" r="1.28" fill="#fdbf1c"/><circle cx="237.75" cy="165.25" r="1.28" fill="#fdbf1c"/><circle cx="238.25" cy="163.25" r="1.28" fill="#fdbf1c"/><circle cx="242.25" cy="173.75" r="1.28" fill="#fdbf1c"/><circle cx="244.75" cy="164.0" r="1.28" fill="#fdbf1c"/><circle cx="246.5" cy="163.75" r="1.28" fill="#fdbf1c"/><circle cx="248.5" cy="151.25" r="1.28" fill="#fdbf1c"/><circle cx="255.25" cy="171.25" r="1.28" fill="#fdbf1c"/><circle cx="257.75" cy="165.75" r="1.28" fill="#fdbf1c"/><circle cx="269.75" cy="158.25" r="1.28" fill="#fdbf1c"/><circle cx="278.5" cy="145.75" r="1.28" fill="#fdbf1c"/><circle cx="278.5" cy="148.75" r="1.28" fill="#fdbf1c"/><circle cx="278.5" cy="157.75" r="1.28" fill="#fdbf1c"/><circle cx="278.25" cy="170.25" r="1.28" fill="#fdbf1c"/><circle cx="285.25" cy="149.75" r="1.28" fill="#fdbf1c"/><circle cx="310.25" cy="138.75" r="1.28" fill="#fdbf1c"/><circle cx="312.0" cy="154.0" r="1.28" fill="#fdbf1c"/><circle cx="321.0" cy="151.5" r="1.28" fill="#fdbf1c"/><circle cx="329.75" cy="149.5" r="1.28" fill="#fdbf1c"/><circle cx="336.0" cy="147.75" r="1.28" fill="#fdbf1c"/><circle cx="341.5" cy="144.5" r="1.28" fill="#fdbf1c"/><circle cx="344.5" cy="157.0" r="1.28" fill="#fdbf1c"/><rect x="270.8" y="190.3" width="64.5" height="9.8" rx="1.5" fill="#fff" stroke="#4f72ae" stroke-width="1"/><text x="303.1" y="197.6" font-size="6.7" fill="#000" text-anchor="middle" xml:space="preserve" stroke="#000" stroke-width="0.15">r(52) = .77, p &lt; .05</text><line x1="355.9" y1="126.5" x2="515.6" y2="126.5" stroke="#f7f7f7" stroke-width="0.7"/><line x1="355.9" y1="136.3" x2="515.6" y2="136.3" stroke="#f7f7f7" stroke-width="0.7"/><line x1="355.9" y1="146.1" x2="515.6" y2="146.1" stroke="#f7f7f7" stroke-width="0.7"/><line x1="355.9" y1="156.4" x2="515.6" y2="156.4" stroke="#f7f7f7" stroke-width="0.7"/><line x1="355.9" y1="166.2" x2="515.6" y2="166.2" stroke="#f7f7f7" stroke-width="0.7"/><line x1="355.9" y1="177.5" x2="515.6" y2="177.5" stroke="#f7f7f7" stroke-width="0.7"/><line x1="355.9" y1="187.8" x2="515.6" y2="187.8" stroke="#f7f7f7" stroke-width="0.7"/><line x1="355.9" y1="198.8" x2="515.6" y2="198.8" stroke="#f7f7f7" stroke-width="0.7"/><line x1="355.9" y1="208.7" x2="515.6" y2="208.7" stroke="#f7f7f7" stroke-width="0.7"/><line x1="355.9" y1="219.7" x2="515.6" y2="219.7" stroke="#f7f7f7" stroke-width="0.7"/><text x="349.4" y="129.0" font-size="4.75" fill="#111" stroke="#111" stroke-width="0.18">57</text><text x="349.4" y="138.8" font-size="4.75" fill="#111" stroke="#111" stroke-width="0.18">56</text><text x="349.4" y="148.6" font-size="4.75" fill="#111" stroke="#111" stroke-width="0.18">55</text><text x="349.4" y="158.9" font-size="4.75" fill="#111" stroke="#111" stroke-width="0.18">54</text><text x="349.4" y="168.7" font-size="4.75" fill="#111" stroke="#111" stroke-width="0.18">53</text><text x="349.4" y="180.0" font-size="4.75" fill="#111" stroke="#111" stroke-width="0.18">52</text><text x="349.4" y="190.3" font-size="4.75" fill="#111" stroke="#111" stroke-width="0.18">51</text><text x="349.4" y="201.3" font-size="4.75" fill="#111" stroke="#111" stroke-width="0.18">50</text><text x="349.4" y="211.2" font-size="4.75" fill="#111" stroke="#111" stroke-width="0.18">49</text><text x="349.4" y="222.2" font-size="4.75" fill="#111" stroke="#111" stroke-width="0.18">48</text><text x="363.4" y="224.9" font-size="5.0" fill="#111" stroke="#111" stroke-width="0.18" text-anchor="middle">2.2</text><text x="378.8" y="224.9" font-size="5.0" fill="#111" stroke="#111" stroke-width="0.18" text-anchor="middle">2.4</text><text x="394.1" y="224.9" font-size="5.0" fill="#111" stroke="#111" stroke-width="0.18" text-anchor="middle">2.6</text><text x="409.5" y="224.9" font-size="5.0" fill="#111" stroke="#111" stroke-width="0.18" text-anchor="middle">2.8</text><text x="424.8" y="224.9" font-size="5.0" fill="#111" stroke="#111" stroke-width="0.18" text-anchor="middle">3</text><text x="440.2" y="224.9" font-size="5.0" fill="#111" stroke="#111" stroke-width="0.18" text-anchor="middle">3.2</text><text x="455.6" y="224.9" font-size="5.0" fill="#111" stroke="#111" stroke-width="0.18" text-anchor="middle">3.4</text><text x="470.9" y="224.9" font-size="5.0" fill="#111" stroke="#111" stroke-width="0.18" text-anchor="middle">3.6</text><text x="486.3" y="224.9" font-size="5.0" fill="#111" stroke="#111" stroke-width="0.18" text-anchor="middle">3.8</text><text x="501.6" y="224.9" font-size="5.0" fill="#111" stroke="#111" stroke-width="0.18" text-anchor="middle">4</text><text x="512.6" y="224.9" font-size="5.0" fill="#111" stroke="#111" stroke-width="0.18" text-anchor="middle">4.2</text><text x="431.1" y="122.4" font-size="6.65" fill="#000" text-anchor="middle" stroke="#000" stroke-width="0.15">Speckle noise, σ<tspan font-size="4.6" dy="-2.3">2</tspan><tspan dy="2.3">=0.01</tspan></text><line x1="356.6" y1="191.5" x2="512.3" y2="128.2" stroke="#90c4ec" stroke-width="0.8"/><text x="468.25" y="144.85" font-size="5.0" fill="#111" stroke="#111" stroke-width="0.15" text-anchor="middle" transform="rotate(-22.1 468.25 143.25)">slope=3.0</text><circle cx="356.25" cy="175.75" r="1.28" fill="#2f8ad0"/><circle cx="357.75" cy="177.5" r="1.28" fill="#2f8ad0"/><circle cx="357.0" cy="193.25" r="1.28" fill="#2f8ad0"/><circle cx="359.5" cy="203.75" r="1.28" fill="#2f8ad0"/><circle cx="360.25" cy="189.5" r="1.28" fill="#2f8ad0"/><circle cx="360.75" cy="193.75" r="1.28" fill="#2f8ad0"/><circle cx="362.75" cy="199.0" r="1.28" fill="#2f8ad0"/><circle cx="363.75" cy="199.0" r="1.28" fill="#2f8ad0"/><circle cx="367.0" cy="190.75" r="1.28" fill="#2f8ad0"/><circle cx="367.0" cy="194.5" r="1.28" fill="#2f8ad0"/><circle cx="367.75" cy="192.0" r="1.28" fill="#2f8ad0"/><circle cx="368.25" cy="194.5" r="1.28" fill="#2f8ad0"/><circle cx="369.0" cy="193.25" r="1.28" fill="#2f8ad0"/><circle cx="369.5" cy="177.5" r="1.28" fill="#2f8ad0"/><circle cx="370.0" cy="178.25" r="1.28" fill="#2f8ad0"/><circle cx="370.75" cy="185.25" r="1.28" fill="#2f8ad0"/><circle cx="370.75" cy="194.0" r="1.28" fill="#2f8ad0"/><circle cx="370.0" cy="214.5" r="1.28" fill="#2f8ad0"/><circle cx="374.0" cy="155.25" r="1.28" fill="#2f8ad0"/><circle cx="375.0" cy="190.25" r="1.28" fill="#2f8ad0"/><circle cx="378.25" cy="171.5" r="1.28" fill="#2f8ad0"/><circle cx="379.5" cy="178.25" r="1.28" fill="#2f8ad0"/><circle cx="383.25" cy="187.75" r="1.28" fill="#2f8ad0"/><circle cx="383.75" cy="190.0" r="1.28" fill="#2f8ad0"/><circle cx="384.5" cy="169.5" r="1.28" fill="#2f8ad0"/><circle cx="385.75" cy="186.0" r="1.28" fill="#2f8ad0"/><circle cx="392.75" cy="157.0" r="1.28" fill="#2f8ad0"/><circle cx="395.0" cy="176.5" r="1.28" fill="#2f8ad0"/><circle cx="395.0" cy="182.0" r="1.28" fill="#2f8ad0"/><circle cx="397.0" cy="164.0" r="1.28" fill="#2f8ad0"/><circle cx="399.5" cy="167.0" r="1.28" fill="#2f8ad0"/><circle cx="404.0" cy="162.75" r="1.28" fill="#2f8ad0"/><circle cx="406.25" cy="165.75" r="1.28" fill="#2f8ad0"/><circle cx="405.75" cy="172.0" r="1.28" fill="#2f8ad0"/><circle cx="406.5" cy="172.75" r="1.28" fill="#2f8ad0"/><circle cx="410.75" cy="177.75" r="1.28" fill="#2f8ad0"/><circle cx="413.25" cy="177.75" r="1.28" fill="#2f8ad0"/><circle cx="414.5" cy="177.5" r="1.28" fill="#2f8ad0"/><circle cx="417.0" cy="152.0" r="1.28" fill="#2f8ad0"/><circle cx="423.75" cy="171.5" r="1.28" fill="#2f8ad0"/><circle cx="426.5" cy="177.0" r="1.28" fill="#2f8ad0"/><circle cx="438.25" cy="149.5" r="1.28" fill="#2f8ad0"/><circle cx="447.0" cy="142.0" r="1.28" fill="#2f8ad0"/><circle cx="447.0" cy="144.5" r="1.28" fill="#2f8ad0"/><circle cx="447.0" cy="162.75" r="1.28" fill="#2f8ad0"/><circle cx="446.5" cy="169.0" r="1.28" fill="#2f8ad0"/><circle cx="453.25" cy="147.5" r="1.28" fill="#2f8ad0"/><circle cx="479.0" cy="130.75" r="1.28" fill="#2f8ad0"/><circle cx="480.25" cy="137.75" r="1.28" fill="#2f8ad0"/><circle cx="489.0" cy="137.75" r="1.28" fill="#2f8ad0"/><circle cx="498.25" cy="136.5" r="1.28" fill="#2f8ad0"/><circle cx="504.5" cy="135.25" r="1.28" fill="#2f8ad0"/><circle cx="510.25" cy="129.0" r="1.28" fill="#2f8ad0"/><circle cx="513.25" cy="140.75" r="1.28" fill="#2f8ad0"/><rect x="439.2" y="190.3" width="64.8" height="9.3" rx="1.5" fill="#fff" stroke="#4f72ae" stroke-width="1"/><text x="471.6" y="197.3" font-size="6.7" fill="#000" text-anchor="middle" xml:space="preserve" stroke="#000" stroke-width="0.15">r(52) = .87, p &lt; .05</text><line x1="524.6" y1="141.9" x2="683.5" y2="141.9" stroke="#f7f7f7" stroke-width="0.7"/><line x1="524.6" y1="167.8" x2="683.5" y2="167.8" stroke="#f7f7f7" stroke-width="0.7"/><line x1="524.6" y1="193.7" x2="683.5" y2="193.7" stroke="#f7f7f7" stroke-width="0.7"/><line x1="524.6" y1="220.3" x2="683.5" y2="220.3" stroke="#f7f7f7" stroke-width="0.7"/><text x="518.1" y="144.4" font-size="4.75" fill="#111" stroke="#111" stroke-width="0.18">19</text><text x="518.1" y="170.3" font-size="4.75" fill="#111" stroke="#111" stroke-width="0.18">16</text><text x="518.1" y="196.2" font-size="4.75" fill="#111" stroke="#111" stroke-width="0.18">13</text><text x="518.1" y="222.8" font-size="4.75" fill="#111" stroke="#111" stroke-width="0.18">10</text><text x="533.2" y="224.9" font-size="5.0" fill="#111" stroke="#111" stroke-width="0.18" text-anchor="middle">2.2</text><text x="548.4" y="224.9" font-size="5.0" fill="#111" stroke="#111" stroke-width="0.18" text-anchor="middle">2.4</text><text x="563.6" y="224.9" font-size="5.0" fill="#111" stroke="#111" stroke-width="0.18" text-anchor="middle">2.6</text><text x="578.8" y="224.9" font-size="5.0" fill="#111" stroke="#111" stroke-width="0.18" text-anchor="middle">2.8</text><text x="594.0" y="224.9" font-size="5.0" fill="#111" stroke="#111" stroke-width="0.18" text-anchor="middle">3</text><text x="609.2" y="224.9" font-size="5.0" fill="#111" stroke="#111" stroke-width="0.18" text-anchor="middle">3.2</text><text x="624.4" y="224.9" font-size="5.0" fill="#111" stroke="#111" stroke-width="0.18" text-anchor="middle">3.4</text><text x="639.6" y="224.9" font-size="5.0" fill="#111" stroke="#111" stroke-width="0.18" text-anchor="middle">3.6</text><text x="654.8" y="224.9" font-size="5.0" fill="#111" stroke="#111" stroke-width="0.18" text-anchor="middle">3.8</text><text x="670.0" y="224.9" font-size="5.0" fill="#111" stroke="#111" stroke-width="0.18" text-anchor="middle">4</text><text x="680.5" y="224.9" font-size="5.0" fill="#111" stroke="#111" stroke-width="0.18" text-anchor="middle">4.2</text><text x="602.6" y="122.4" font-size="6.65" fill="#000" text-anchor="middle" stroke="#000" stroke-width="0.15">S&amp;P noise, s_<tspan font-style="italic">vs</tspan>_<tspan font-style="italic">p</tspan>=0.5</text><line x1="525.9" y1="182.8" x2="680.8" y2="156.9" stroke="#d0b0ec" stroke-width="0.8"/><text x="638" y="161.10" font-size="5.0" fill="#111" stroke="#111" stroke-width="0.15" text-anchor="middle" transform="rotate(-9.5 638 159.5)">slope=1.5</text><circle cx="525.75" cy="172.75" r="1.28" fill="#8350b8"/><circle cx="527.25" cy="171.5" r="1.28" fill="#8350b8"/><circle cx="528.25" cy="161.25" r="1.28" fill="#8350b8"/><circle cx="529.75" cy="161.25" r="1.28" fill="#8350b8"/><circle cx="530.75" cy="161.25" r="1.28" fill="#8350b8"/><circle cx="532.75" cy="185.25" r="1.28" fill="#8350b8"/><circle cx="534.0" cy="192.0" r="1.28" fill="#8350b8"/><circle cx="536.5" cy="202.5" r="1.28" fill="#8350b8"/><circle cx="537.0" cy="162.75" r="1.28" fill="#8350b8"/><circle cx="537.75" cy="191.5" r="1.28" fill="#8350b8"/><circle cx="538.25" cy="190.25" r="1.28" fill="#8350b8"/><circle cx="539.0" cy="168.25" r="1.28" fill="#8350b8"/><circle cx="539.5" cy="204.5" r="1.28" fill="#8350b8"/><circle cx="539.5" cy="180.25" r="1.28" fill="#8350b8"/><circle cx="540.25" cy="154.0" r="1.28" fill="#8350b8"/><circle cx="541.0" cy="186.5" r="1.28" fill="#8350b8"/><circle cx="540.75" cy="179.5" r="1.28" fill="#8350b8"/><circle cx="544.0" cy="173.75" r="1.28" fill="#8350b8"/><circle cx="545.25" cy="168.75" r="1.28" fill="#8350b8"/><circle cx="547.75" cy="168.25" r="1.28" fill="#8350b8"/><circle cx="549.0" cy="183.25" r="1.28" fill="#8350b8"/><circle cx="552.75" cy="179.0" r="1.28" fill="#8350b8"/><circle cx="553.25" cy="191.5" r="1.28" fill="#8350b8"/><circle cx="554.0" cy="174.5" r="1.28" fill="#8350b8"/><circle cx="555.75" cy="178.25" r="1.28" fill="#8350b8"/><circle cx="562.75" cy="186.5" r="1.28" fill="#8350b8"/><circle cx="564.0" cy="199.5" r="1.28" fill="#8350b8"/><circle cx="564.75" cy="188.25" r="1.28" fill="#8350b8"/><circle cx="566.5" cy="165.75" r="1.28" fill="#8350b8"/><circle cx="568.5" cy="185.75" r="1.28" fill="#8350b8"/><circle cx="573.25" cy="167.0" r="1.28" fill="#8350b8"/><circle cx="574.5" cy="185.75" r="1.28" fill="#8350b8"/><circle cx="575.25" cy="161.5" r="1.28" fill="#8350b8"/><circle cx="575.25" cy="200.0" r="1.28" fill="#8350b8"/><circle cx="579.75" cy="198.25" r="1.28" fill="#8350b8"/><circle cx="582.75" cy="192.0" r="1.28" fill="#8350b8"/><circle cx="584.0" cy="166.5" r="1.28" fill="#8350b8"/><circle cx="586.0" cy="170.75" r="1.28" fill="#8350b8"/><circle cx="592.25" cy="188.75" r="1.28" fill="#8350b8"/><circle cx="594.75" cy="172.75" r="1.28" fill="#8350b8"/><circle cx="607.0" cy="181.5" r="1.28" fill="#8350b8"/><circle cx="614.75" cy="180.75" r="1.28" fill="#8350b8"/><circle cx="615.25" cy="163.75" r="1.28" fill="#8350b8"/><circle cx="621.5" cy="169.75" r="1.28" fill="#8350b8"/><circle cx="647.0" cy="142.75" r="1.28" fill="#8350b8"/><circle cx="648.25" cy="168.75" r="1.28" fill="#8350b8"/><circle cx="657.0" cy="167.5" r="1.28" fill="#8350b8"/><circle cx="665.75" cy="147.75" r="1.28" fill="#8350b8"/><circle cx="672.0" cy="147.0" r="1.28" fill="#8350b8"/><circle cx="677.25" cy="136.5" r="1.28" fill="#8350b8"/><circle cx="680.25" cy="148.5" r="1.28" fill="#8350b8"/><circle cx="615.25" cy="180.0" r="1.28" fill="#8350b8"/><circle cx="537.25" cy="191.25" r="1.28" fill="#8350b8"/><rect x="608.5" y="190.2" width="64.7" height="9.6" rx="1.5" fill="#fff" stroke="#4f72ae" stroke-width="1"/><text x="640.9" y="197.4" font-size="6.7" fill="#000" text-anchor="middle" xml:space="preserve" stroke="#000" stroke-width="0.15">r(52) = .47, p &lt; .05</text><line x1="19.5" y1="244.6" x2="178.8" y2="244.6" stroke="#f7f7f7" stroke-width="0.7"/><line x1="19.5" y1="256.0" x2="178.8" y2="256.0" stroke="#f7f7f7" stroke-width="0.7"/><line x1="19.5" y1="266.3" x2="178.8" y2="266.3" stroke="#f7f7f7" stroke-width="0.7"/><line x1="19.5" y1="277.4" x2="178.8" y2="277.4" stroke="#f7f7f7" stroke-width="0.7"/><line x1="19.5" y1="287.8" x2="178.8" y2="287.8" stroke="#f7f7f7" stroke-width="0.7"/><line x1="19.5" y1="298.4" x2="178.8" y2="298.4" stroke="#f7f7f7" stroke-width="0.7"/><line x1="19.5" y1="309.5" x2="178.8" y2="309.5" stroke="#f7f7f7" stroke-width="0.7"/><line x1="19.5" y1="319.4" x2="178.8" y2="319.4" stroke="#f7f7f7" stroke-width="0.7"/><line x1="19.5" y1="329.7" x2="178.8" y2="329.7" stroke="#f7f7f7" stroke-width="0.7"/><line x1="19.5" y1="340.8" x2="178.8" y2="340.8" stroke="#f7f7f7" stroke-width="0.7"/><text x="13.0" y="247.1" font-size="4.75" fill="#111" stroke="#111" stroke-width="0.18">69</text><text x="13.0" y="258.5" font-size="4.75" fill="#111" stroke="#111" stroke-width="0.18">68</text><text x="13.0" y="268.8" font-size="4.75" fill="#111" stroke="#111" stroke-width="0.18">67</text><text x="13.0" y="279.9" font-size="4.75" fill="#111" stroke="#111" stroke-width="0.18">66</text><text x="13.0" y="290.3" font-size="4.75" fill="#111" stroke="#111" stroke-width="0.18">65</text><text x="13.0" y="300.9" font-size="4.75" fill="#111" stroke="#111" stroke-width="0.18">64</text><text x="13.0" y="312.0" font-size="4.75" fill="#111" stroke="#111" stroke-width="0.18">63</text><text x="13.0" y="321.9" font-size="4.75" fill="#111" stroke="#111" stroke-width="0.18">62</text><text x="13.0" y="332.2" font-size="4.75" fill="#111" stroke="#111" stroke-width="0.18">61</text><text x="13.0" y="343.3" font-size="4.75" fill="#111" stroke="#111" stroke-width="0.18">60</text><text x="28.5" y="345.1" font-size="5.0" fill="#111" stroke="#111" stroke-width="0.18" text-anchor="middle">2.2</text><text x="43.8" y="345.1" font-size="5.0" fill="#111" stroke="#111" stroke-width="0.18" text-anchor="middle">2.4</text><text x="59.0" y="345.1" font-size="5.0" fill="#111" stroke="#111" stroke-width="0.18" text-anchor="middle">2.6</text><text x="74.3" y="345.1" font-size="5.0" fill="#111" stroke="#111" stroke-width="0.18" text-anchor="middle">2.8</text><text x="89.5" y="345.1" font-size="5.0" fill="#111" stroke="#111" stroke-width="0.18" text-anchor="middle">3</text><text x="104.8" y="345.1" font-size="5.0" fill="#111" stroke="#111" stroke-width="0.18" text-anchor="middle">3.2</text><text x="120.1" y="345.1" font-size="5.0" fill="#111" stroke="#111" stroke-width="0.18" text-anchor="middle">3.4</text><text x="135.3" y="345.1" font-size="5.0" fill="#111" stroke="#111" stroke-width="0.18" text-anchor="middle">3.6</text><text x="150.6" y="345.1" font-size="5.0" fill="#111" stroke="#111" stroke-width="0.18" text-anchor="middle">3.8</text><text x="165.8" y="345.1" font-size="5.0" fill="#111" stroke="#111" stroke-width="0.18" text-anchor="middle">4</text><text x="175.8" y="345.1" font-size="5.0" fill="#111" stroke="#111" stroke-width="0.18" text-anchor="middle">4.2</text><text x="94.1" y="242.8" font-size="6.65" fill="#000" text-anchor="middle" stroke="#000" stroke-width="0.15">Accuracy on clean images</text><line x1="21.1" y1="303.4" x2="178.8" y2="280.3" stroke="#8ed8b0" stroke-width="0.8"/><text x="135.25" y="283.35" font-size="5.0" fill="#111" stroke="#111" stroke-width="0.15" text-anchor="middle" transform="rotate(-8.3 135.25 281.75)">slope=1.1</text><circle cx="21.75" cy="304.75" r="1.28" fill="#72a35a"/><circle cx="22.5" cy="296.5" r="1.28" fill="#72a35a"/><circle cx="23.75" cy="299.75" r="1.28" fill="#72a35a"/><circle cx="25.0" cy="294.75" r="1.28" fill="#72a35a"/><circle cx="26.25" cy="295.5" r="1.28" fill="#72a35a"/><circle cx="26.25" cy="302.25" r="1.28" fill="#72a35a"/><circle cx="28.75" cy="291.75" r="1.28" fill="#72a35a"/><circle cx="29.25" cy="290.25" r="1.28" fill="#72a35a"/><circle cx="29.5" cy="289.25" r="1.28" fill="#72a35a"/><circle cx="32.5" cy="304.75" r="1.28" fill="#72a35a"/><circle cx="32.5" cy="310.5" r="1.28" fill="#72a35a"/><circle cx="33.25" cy="312.25" r="1.28" fill="#72a35a"/><circle cx="33.75" cy="291.0" r="1.28" fill="#72a35a"/><circle cx="34.25" cy="311.5" r="1.28" fill="#72a35a"/><circle cx="34.5" cy="302.25" r="1.28" fill="#72a35a"/><circle cx="35.0" cy="309.0" r="1.28" fill="#72a35a"/><circle cx="35.5" cy="316.0" r="1.28" fill="#72a35a"/><circle cx="35.75" cy="296.75" r="1.28" fill="#72a35a"/><circle cx="36.25" cy="287.25" r="1.28" fill="#72a35a"/><circle cx="39.5" cy="322.25" r="1.28" fill="#72a35a"/><circle cx="40.5" cy="301.5" r="1.28" fill="#72a35a"/><circle cx="43.75" cy="309.75" r="1.28" fill="#72a35a"/><circle cx="45.0" cy="294.25" r="1.28" fill="#72a35a"/><circle cx="48.75" cy="299.25" r="1.28" fill="#72a35a"/><circle cx="49.25" cy="308.0" r="1.28" fill="#72a35a"/><circle cx="49.5" cy="286.0" r="1.28" fill="#72a35a"/><circle cx="51.25" cy="304.75" r="1.28" fill="#72a35a"/><circle cx="58.75" cy="298.5" r="1.28" fill="#72a35a"/><circle cx="60.0" cy="279.75" r="1.28" fill="#72a35a"/><circle cx="60.5" cy="304.75" r="1.28" fill="#72a35a"/><circle cx="62.0" cy="302.25" r="1.28" fill="#72a35a"/><circle cx="64.5" cy="293.5" r="1.28" fill="#72a35a"/><circle cx="68.75" cy="309.25" r="1.28" fill="#72a35a"/><circle cx="70.75" cy="290.25" r="1.28" fill="#72a35a"/><circle cx="71.25" cy="281.0" r="1.28" fill="#72a35a"/><circle cx="71.25" cy="322.75" r="1.28" fill="#72a35a"/><circle cx="75.5" cy="296.0" r="1.28" fill="#72a35a"/><circle cx="78.0" cy="298.0" r="1.28" fill="#72a35a"/><circle cx="80.0" cy="287.25" r="1.28" fill="#72a35a"/><circle cx="81.75" cy="319.0" r="1.28" fill="#72a35a"/><circle cx="88.25" cy="289.75" r="1.28" fill="#72a35a"/><circle cx="90.75" cy="278.5" r="1.28" fill="#72a35a"/><circle cx="103.0" cy="286.75" r="1.28" fill="#72a35a"/><circle cx="111.0" cy="274.0" r="1.28" fill="#72a35a"/><circle cx="111.25" cy="278.0" r="1.28" fill="#72a35a"/><circle cx="111.25" cy="283.5" r="1.28" fill="#72a35a"/><circle cx="111.25" cy="284.75" r="1.28" fill="#72a35a"/><circle cx="118.0" cy="287.75" r="1.28" fill="#72a35a"/><circle cx="143.0" cy="293.0" r="1.28" fill="#72a35a"/><circle cx="144.5" cy="293.5" r="1.28" fill="#72a35a"/><circle cx="153.25" cy="274.25" r="1.28" fill="#72a35a"/><circle cx="162.0" cy="319.75" r="1.28" fill="#72a35a"/><circle cx="168.0" cy="286.75" r="1.28" fill="#72a35a"/><circle cx="173.25" cy="268.5" r="1.28" fill="#72a35a"/><circle cx="176.75" cy="267.75" r="1.28" fill="#72a35a"/><rect x="93.7" y="322.3" width="64.8" height="9.9" rx="1.5" fill="#fff" stroke="#4f72ae" stroke-width="1"/><text x="126.1" y="329.6" font-size="6.7" fill="#000" text-anchor="middle" xml:space="preserve" stroke="#000" stroke-width="0.15">r(52) = .49, p &lt; .05</text><line x1="187.8" y1="245.3" x2="346.9" y2="245.3" stroke="#f7f7f7" stroke-width="0.7"/><line x1="187.8" y1="261.2" x2="346.9" y2="261.2" stroke="#f7f7f7" stroke-width="0.7"/><line x1="187.8" y1="277.2" x2="346.9" y2="277.2" stroke="#f7f7f7" stroke-width="0.7"/><line x1="187.8" y1="292.6" x2="346.9" y2="292.6" stroke="#f7f7f7" stroke-width="0.7"/><line x1="187.8" y1="308.3" x2="346.9" y2="308.3" stroke="#f7f7f7" stroke-width="0.7"/><line x1="187.8" y1="325.0" x2="346.9" y2="325.0" stroke="#f7f7f7" stroke-width="0.7"/><line x1="187.8" y1="340.4" x2="346.9" y2="340.4" stroke="#f7f7f7" stroke-width="0.7"/><text x="181.3" y="247.8" font-size="4.75" fill="#111" stroke="#111" stroke-width="0.18">43</text><text x="181.3" y="263.7" font-size="4.75" fill="#111" stroke="#111" stroke-width="0.18">40</text><text x="181.3" y="279.7" font-size="4.75" fill="#111" stroke="#111" stroke-width="0.18">37</text><text x="181.3" y="295.1" font-size="4.75" fill="#111" stroke="#111" stroke-width="0.18">34</text><text x="181.3" y="310.8" font-size="4.75" fill="#111" stroke="#111" stroke-width="0.18">31</text><text x="181.3" y="327.5" font-size="4.75" fill="#111" stroke="#111" stroke-width="0.18">28</text><text x="181.3" y="342.9" font-size="4.75" fill="#111" stroke="#111" stroke-width="0.18">25</text><text x="198.8" y="345.1" font-size="5.0" fill="#111" stroke="#111" stroke-width="0.18" text-anchor="middle">2.2</text><text x="213.7" y="345.1" font-size="5.0" fill="#111" stroke="#111" stroke-width="0.18" text-anchor="middle">2.4</text><text x="228.7" y="345.1" font-size="5.0" fill="#111" stroke="#111" stroke-width="0.18" text-anchor="middle">2.6</text><text x="243.6" y="345.1" font-size="5.0" fill="#111" stroke="#111" stroke-width="0.18" text-anchor="middle">2.8</text><text x="258.6" y="345.1" font-size="5.0" fill="#111" stroke="#111" stroke-width="0.18" text-anchor="middle">3</text><text x="273.5" y="345.1" font-size="5.0" fill="#111" stroke="#111" stroke-width="0.18" text-anchor="middle">3.2</text><text x="288.4" y="345.1" font-size="5.0" fill="#111" stroke="#111" stroke-width="0.18" text-anchor="middle">3.4</text><text x="303.4" y="345.1" font-size="5.0" fill="#111" stroke="#111" stroke-width="0.18" text-anchor="middle">3.6</text><text x="318.3" y="345.1" font-size="5.0" fill="#111" stroke="#111" stroke-width="0.18" text-anchor="middle">3.8</text><text x="333.3" y="345.1" font-size="5.0" fill="#111" stroke="#111" stroke-width="0.18" text-anchor="middle">4</text><text x="343.9" y="345.1" font-size="5.0" fill="#111" stroke="#111" stroke-width="0.18" text-anchor="middle">4.2</text><text x="260.9" y="242.8" font-size="6.65" fill="#000" text-anchor="middle" stroke="#000" stroke-width="0.15">FGSM, Ɛ=0.005</text><line x1="191" y1="292.4" x2="343.8" y2="273.5" stroke="#ebc49a" stroke-width="0.8"/><text x="300.5" y="275.85" font-size="5.0" fill="#111" stroke="#111" stroke-width="0.15" text-anchor="middle" transform="rotate(-7.1 300.5 274.25)">slope=1.7</text><circle cx="191.5" cy="295.5" r="1.28" fill="#b27a35"/><circle cx="192.75" cy="303.5" r="1.28" fill="#b27a35"/><circle cx="194.0" cy="289.0" r="1.28" fill="#b27a35"/><circle cx="194.75" cy="287.75" r="1.28" fill="#b27a35"/><circle cx="195.75" cy="286.5" r="1.28" fill="#b27a35"/><circle cx="196.0" cy="301.75" r="1.28" fill="#b27a35"/><circle cx="196.5" cy="285.5" r="1.28" fill="#b27a35"/><circle cx="198.25" cy="290.25" r="1.28" fill="#b27a35"/><circle cx="199.0" cy="280.5" r="1.28" fill="#b27a35"/><circle cx="202.0" cy="281.75" r="1.28" fill="#b27a35"/><circle cx="202.25" cy="291.75" r="1.28" fill="#b27a35"/><circle cx="202.75" cy="296.5" r="1.28" fill="#b27a35"/><circle cx="203.25" cy="288.5" r="1.28" fill="#b27a35"/><circle cx="204.0" cy="294.75" r="1.28" fill="#b27a35"/><circle cx="204.5" cy="302.25" r="1.28" fill="#b27a35"/><circle cx="205.25" cy="304.25" r="1.28" fill="#b27a35"/><circle cx="204.75" cy="266.75" r="1.28" fill="#b27a35"/><circle cx="205.75" cy="299.75" r="1.28" fill="#b27a35"/><circle cx="206.0" cy="282.25" r="1.28" fill="#b27a35"/><circle cx="209.0" cy="300.5" r="1.28" fill="#b27a35"/><circle cx="210.25" cy="304.0" r="1.28" fill="#b27a35"/><circle cx="212.75" cy="290.25" r="1.28" fill="#b27a35"/><circle cx="214.5" cy="271.0" r="1.28" fill="#b27a35"/><circle cx="218.25" cy="307.75" r="1.28" fill="#b27a35"/><circle cx="218.25" cy="281.75" r="1.28" fill="#b27a35"/><circle cx="219.0" cy="291.5" r="1.28" fill="#b27a35"/><circle cx="220.75" cy="286.0" r="1.28" fill="#b27a35"/><circle cx="227.75" cy="297.25" r="1.28" fill="#b27a35"/><circle cx="229.0" cy="283.5" r="1.28" fill="#b27a35"/><circle cx="229.75" cy="294.0" r="1.28" fill="#b27a35"/><circle cx="231.5" cy="272.25" r="1.28" fill="#b27a35"/><circle cx="233.5" cy="278.5" r="1.28" fill="#b27a35"/><circle cx="238.25" cy="304.75" r="1.28" fill="#b27a35"/><circle cx="239.75" cy="278.5" r="1.28" fill="#b27a35"/><circle cx="240.25" cy="277.25" r="1.28" fill="#b27a35"/><circle cx="240.75" cy="270.25" r="1.28" fill="#b27a35"/><circle cx="244.75" cy="283.5" r="1.28" fill="#b27a35"/><circle cx="247.25" cy="289.75" r="1.28" fill="#b27a35"/><circle cx="249.5" cy="282.75" r="1.28" fill="#b27a35"/><circle cx="250.75" cy="283.5" r="1.28" fill="#b27a35"/><circle cx="257.25" cy="283.5" r="1.28" fill="#b27a35"/><circle cx="259.75" cy="279.0" r="1.28" fill="#b27a35"/><circle cx="272.0" cy="281.0" r="1.28" fill="#b27a35"/><circle cx="280.0" cy="270.5" r="1.28" fill="#b27a35"/><circle cx="280.0" cy="276.75" r="1.28" fill="#b27a35"/><circle cx="280.0" cy="281.75" r="1.28" fill="#b27a35"/><circle cx="280.25" cy="282.25" r="1.28" fill="#b27a35"/><circle cx="286.0" cy="284.25" r="1.28" fill="#b27a35"/><circle cx="311.0" cy="283.0" r="1.28" fill="#b27a35"/><circle cx="312.75" cy="286.75" r="1.28" fill="#b27a35"/><circle cx="321.5" cy="278.5" r="1.28" fill="#b27a35"/><circle cx="330.25" cy="279.0" r="1.28" fill="#b27a35"/><circle cx="336.0" cy="280.5" r="1.28" fill="#b27a35"/><circle cx="341.0" cy="274.25" r="1.28" fill="#b27a35"/><circle cx="344.0" cy="267.75" r="1.28" fill="#b27a35"/><rect x="262.7" y="321.8" width="65.0" height="9.8" rx="1.5" fill="#fff" stroke="#4f72ae" stroke-width="1"/><text x="295.2" y="329.1" font-size="6.7" fill="#000" text-anchor="middle" xml:space="preserve" stroke="#000" stroke-width="0.15">r(52) = .50, p &lt; .05</text><line x1="355.9" y1="252.1" x2="515.6" y2="252.1" stroke="#f7f7f7" stroke-width="0.7"/><line x1="355.9" y1="269.8" x2="515.6" y2="269.8" stroke="#f7f7f7" stroke-width="0.7"/><line x1="355.9" y1="287.5" x2="515.6" y2="287.5" stroke="#f7f7f7" stroke-width="0.7"/><line x1="355.9" y1="304.9" x2="515.6" y2="304.9" stroke="#f7f7f7" stroke-width="0.7"/><line x1="355.9" y1="322.5" x2="515.6" y2="322.5" stroke="#f7f7f7" stroke-width="0.7"/><line x1="355.9" y1="340.2" x2="515.6" y2="340.2" stroke="#f7f7f7" stroke-width="0.7"/><text x="349.4" y="254.6" font-size="4.75" fill="#111" stroke="#111" stroke-width="0.18">9</text><text x="349.4" y="272.3" font-size="4.75" fill="#111" stroke="#111" stroke-width="0.18">8</text><text x="349.4" y="290.0" font-size="4.75" fill="#111" stroke="#111" stroke-width="0.18">7</text><text x="349.4" y="307.4" font-size="4.75" fill="#111" stroke="#111" stroke-width="0.18">6</text><text x="349.4" y="325.0" font-size="4.75" fill="#111" stroke="#111" stroke-width="0.18">5</text><text x="349.4" y="342.7" font-size="4.75" fill="#111" stroke="#111" stroke-width="0.18">4</text><text x="363.4" y="345.1" font-size="5.0" fill="#111" stroke="#111" stroke-width="0.18" text-anchor="middle">2.2</text><text x="378.8" y="345.1" font-size="5.0" fill="#111" stroke="#111" stroke-width="0.18" text-anchor="middle">2.4</text><text x="394.1" y="345.1" font-size="5.0" fill="#111" stroke="#111" stroke-width="0.18" text-anchor="middle">2.6</text><text x="409.5" y="345.1" font-size="5.0" fill="#111" stroke="#111" stroke-width="0.18" text-anchor="middle">2.8</text><text x="424.8" y="345.1" font-size="5.0" fill="#111" stroke="#111" stroke-width="0.18" text-anchor="middle">3</text><text x="440.2" y="345.1" font-size="5.0" fill="#111" stroke="#111" stroke-width="0.18" text-anchor="middle">3.2</text><text x="455.6" y="345.1" font-size="5.0" fill="#111" stroke="#111" stroke-width="0.18" text-anchor="middle">3.4</text><text x="470.9" y="345.1" font-size="5.0" fill="#111" stroke="#111" stroke-width="0.18" text-anchor="middle">3.6</text><text x="486.3" y="345.1" font-size="5.0" fill="#111" stroke="#111" stroke-width="0.18" text-anchor="middle">3.8</text><text x="501.6" y="345.1" font-size="5.0" fill="#111" stroke="#111" stroke-width="0.18" text-anchor="middle">4</text><text x="512.6" y="345.1" font-size="5.0" fill="#111" stroke="#111" stroke-width="0.18" text-anchor="middle">4.2</text><text x="431.4" y="242.8" font-size="6.65" fill="#000" text-anchor="middle" stroke="#000" stroke-width="0.15">FGSM, Ɛ=0.015</text><line x1="355.4" y1="300.5" x2="511.8" y2="265.6" stroke="#ebc49a" stroke-width="0.8"/><text x="466" y="272.60" font-size="5.0" fill="#111" stroke="#111" stroke-width="0.15" text-anchor="middle" transform="rotate(-12.6 466 271)">slope=1.0</text><circle cx="355.75" cy="304.25" r="1.28" fill="#b27a35"/><circle cx="357.0" cy="324.75" r="1.28" fill="#b27a35"/><circle cx="357.5" cy="283.5" r="1.28" fill="#b27a35"/><circle cx="358.75" cy="298.0" r="1.28" fill="#b27a35"/><circle cx="359.5" cy="299.0" r="1.28" fill="#b27a35"/><circle cx="360.25" cy="303.5" r="1.28" fill="#b27a35"/><circle cx="361.25" cy="299.0" r="1.28" fill="#b27a35"/><circle cx="362.5" cy="307.75" r="1.28" fill="#b27a35"/><circle cx="363.75" cy="298.5" r="1.28" fill="#b27a35"/><circle cx="366.5" cy="296.0" r="1.28" fill="#b27a35"/><circle cx="366.5" cy="329.0" r="1.28" fill="#b27a35"/><circle cx="367.75" cy="306.75" r="1.28" fill="#b27a35"/><circle cx="368.25" cy="322.25" r="1.28" fill="#b27a35"/><circle cx="368.75" cy="307.25" r="1.28" fill="#b27a35"/><circle cx="369.0" cy="313.0" r="1.28" fill="#b27a35"/><circle cx="369.5" cy="269.25" r="1.28" fill="#b27a35"/><circle cx="369.0" cy="274.0" r="1.28" fill="#b27a35"/><circle cx="370.0" cy="313.5" r="1.28" fill="#b27a35"/><circle cx="370.75" cy="272.25" r="1.28" fill="#b27a35"/><circle cx="374.0" cy="298.0" r="1.28" fill="#b27a35"/><circle cx="374.5" cy="296.5" r="1.28" fill="#b27a35"/><circle cx="377.5" cy="307.25" r="1.28" fill="#b27a35"/><circle cx="378.75" cy="272.25" r="1.28" fill="#b27a35"/><circle cx="382.75" cy="299.75" r="1.28" fill="#b27a35"/><circle cx="383.25" cy="315.25" r="1.28" fill="#b27a35"/><circle cx="383.75" cy="301.75" r="1.28" fill="#b27a35"/><circle cx="385.75" cy="253.5" r="1.28" fill="#b27a35"/><circle cx="392.5" cy="307.25" r="1.28" fill="#b27a35"/><circle cx="394.0" cy="277.75" r="1.28" fill="#b27a35"/><circle cx="394.5" cy="287.25" r="1.28" fill="#b27a35"/><circle cx="396.25" cy="285.25" r="1.28" fill="#b27a35"/><circle cx="398.75" cy="269.25" r="1.28" fill="#b27a35"/><circle cx="403.25" cy="317.25" r="1.28" fill="#b27a35"/><circle cx="405.0" cy="284.0" r="1.28" fill="#b27a35"/><circle cx="405.75" cy="279.75" r="1.28" fill="#b27a35"/><circle cx="405.75" cy="270.5" r="1.28" fill="#b27a35"/><circle cx="410.0" cy="262.25" r="1.28" fill="#b27a35"/><circle cx="412.75" cy="284.75" r="1.28" fill="#b27a35"/><circle cx="414.0" cy="299.75" r="1.28" fill="#b27a35"/><circle cx="416.25" cy="274.25" r="1.28" fill="#b27a35"/><circle cx="422.75" cy="282.75" r="1.28" fill="#b27a35"/><circle cx="425.25" cy="270.25" r="1.28" fill="#b27a35"/><circle cx="437.5" cy="279.75" r="1.28" fill="#b27a35"/><circle cx="446.0" cy="270.25" r="1.28" fill="#b27a35"/><circle cx="446.0" cy="286.0" r="1.28" fill="#b27a35"/><circle cx="445.75" cy="302.75" r="1.28" fill="#b27a35"/><circle cx="445.75" cy="306.0" r="1.28" fill="#b27a35"/><circle cx="452.0" cy="271.75" r="1.28" fill="#b27a35"/><circle cx="477.5" cy="274.0" r="1.28" fill="#b27a35"/><circle cx="479.5" cy="288.5" r="1.28" fill="#b27a35"/><circle cx="488.25" cy="285.5" r="1.28" fill="#b27a35"/><circle cx="497.0" cy="259.25" r="1.28" fill="#b27a35"/><circle cx="503.25" cy="269.75" r="1.28" fill="#b27a35"/><circle cx="508.25" cy="271.75" r="1.28" fill="#b27a35"/><circle cx="511.5" cy="253.5" r="1.28" fill="#b27a35"/><rect x="427.2" y="321.8" width="69.2" height="9.8" rx="1.5" fill="#fff" stroke="#4f72ae" stroke-width="1"/><text x="461.8" y="329.1" font-size="6.7" fill="#000" text-anchor="middle" xml:space="preserve" stroke="#000" stroke-width="0.15">r(52) = .53, p &lt; .05</text><line x1="524.6" y1="244.6" x2="683.5" y2="244.6" stroke="#f7f7f7" stroke-width="0.7"/><line x1="524.6" y1="255.7" x2="683.5" y2="255.7" stroke="#f7f7f7" stroke-width="0.7"/><line x1="524.6" y1="266.3" x2="683.5" y2="266.3" stroke="#f7f7f7" stroke-width="0.7"/><line x1="524.6" y1="276.9" x2="683.5" y2="276.9" stroke="#f7f7f7" stroke-width="0.7"/><line x1="524.6" y1="287.8" x2="683.5" y2="287.8" stroke="#f7f7f7" stroke-width="0.7"/><line x1="524.6" y1="297.9" x2="683.5" y2="297.9" stroke="#f7f7f7" stroke-width="0.7"/><line x1="524.6" y1="309.0" x2="683.5" y2="309.0" stroke="#f7f7f7" stroke-width="0.7"/><line x1="524.6" y1="319.4" x2="683.5" y2="319.4" stroke="#f7f7f7" stroke-width="0.7"/><line x1="524.6" y1="330.0" x2="683.5" y2="330.0" stroke="#f7f7f7" stroke-width="0.7"/><line x1="524.6" y1="340.8" x2="683.5" y2="340.8" stroke="#f7f7f7" stroke-width="0.7"/><text x="518.1" y="247.1" font-size="4.75" fill="#111" stroke="#111" stroke-width="0.18">13</text><text x="518.1" y="258.2" font-size="4.75" fill="#111" stroke="#111" stroke-width="0.18">12</text><text x="518.1" y="268.8" font-size="4.75" fill="#111" stroke="#111" stroke-width="0.18">11</text><text x="518.1" y="279.4" font-size="4.75" fill="#111" stroke="#111" stroke-width="0.18">10</text><text x="518.1" y="290.3" font-size="4.75" fill="#111" stroke="#111" stroke-width="0.18">9</text><text x="518.1" y="300.4" font-size="4.75" fill="#111" stroke="#111" stroke-width="0.18">8</text><text x="518.1" y="311.5" font-size="4.75" fill="#111" stroke="#111" stroke-width="0.18">7</text><text x="518.1" y="321.9" font-size="4.75" fill="#111" stroke="#111" stroke-width="0.18">6</text><text x="518.1" y="332.5" font-size="4.75" fill="#111" stroke="#111" stroke-width="0.18">5</text><text x="518.1" y="343.3" font-size="4.75" fill="#111" stroke="#111" stroke-width="0.18">4</text><text x="533.2" y="345.1" font-size="5.0" fill="#111" stroke="#111" stroke-width="0.18" text-anchor="middle">2.2</text><text x="548.4" y="345.1" font-size="5.0" fill="#111" stroke="#111" stroke-width="0.18" text-anchor="middle">2.4</text><text x="563.6" y="345.1" font-size="5.0" fill="#111" stroke="#111" stroke-width="0.18" text-anchor="middle">2.6</text><text x="578.9" y="345.1" font-size="5.0" fill="#111" stroke="#111" stroke-width="0.18" text-anchor="middle">2.8</text><text x="594.1" y="345.1" font-size="5.0" fill="#111" stroke="#111" stroke-width="0.18" text-anchor="middle">3</text><text x="609.3" y="345.1" font-size="5.0" fill="#111" stroke="#111" stroke-width="0.18" text-anchor="middle">3.2</text><text x="624.5" y="345.1" font-size="5.0" fill="#111" stroke="#111" stroke-width="0.18" text-anchor="middle">3.4</text><text x="639.7" y="345.1" font-size="5.0" fill="#111" stroke="#111" stroke-width="0.18" text-anchor="middle">3.6</text><text x="655.0" y="345.1" font-size="5.0" fill="#111" stroke="#111" stroke-width="0.18" text-anchor="middle">3.8</text><text x="670.2" y="345.1" font-size="5.0" fill="#111" stroke="#111" stroke-width="0.18" text-anchor="middle">4</text><text x="680.5" y="345.1" font-size="5.0" fill="#111" stroke="#111" stroke-width="0.18" text-anchor="middle">4.2</text><text x="602.5" y="242.8" font-size="6.65" fill="#000" text-anchor="middle" stroke="#000" stroke-width="0.15">PGD, Ɛ=0.008</text><line x1="524.6" y1="299.6" x2="680.8" y2="292.2" stroke="#c8c8c8" stroke-width="0.8"/><text x="631.25" y="291.60" font-size="5.0" fill="#111" stroke="#111" stroke-width="0.15" text-anchor="middle" transform="rotate(-2.7 631.25 290)">slope=0.4</text><circle cx="524.75" cy="311.75" r="1.28" fill="#8a8a8a"/><circle cx="526.0" cy="317.75" r="1.28" fill="#8a8a8a"/><circle cx="526.5" cy="291.75" r="1.28" fill="#8a8a8a"/><circle cx="527.75" cy="301.0" r="1.28" fill="#8a8a8a"/><circle cx="529.0" cy="305.5" r="1.28" fill="#8a8a8a"/><circle cx="529.75" cy="303.0" r="1.28" fill="#8a8a8a"/><circle cx="531.5" cy="306.75" r="1.28" fill="#8a8a8a"/><circle cx="532.0" cy="305.25" r="1.28" fill="#8a8a8a"/><circle cx="535.25" cy="283.0" r="1.28" fill="#8a8a8a"/><circle cx="536.0" cy="304.75" r="1.28" fill="#8a8a8a"/><circle cx="536.5" cy="297.75" r="1.28" fill="#8a8a8a"/><circle cx="537.75" cy="306.0" r="1.28" fill="#8a8a8a"/><circle cx="537.75" cy="313.5" r="1.28" fill="#8a8a8a"/><circle cx="538.25" cy="316.0" r="1.28" fill="#8a8a8a"/><circle cx="538.5" cy="317.25" r="1.28" fill="#8a8a8a"/><circle cx="538.5" cy="249.25" r="1.28" fill="#8a8a8a"/><circle cx="539.0" cy="312.25" r="1.28" fill="#8a8a8a"/><circle cx="539.75" cy="292.75" r="1.28" fill="#8a8a8a"/><circle cx="542.75" cy="292.25" r="1.28" fill="#8a8a8a"/><circle cx="544.0" cy="314.0" r="1.28" fill="#8a8a8a"/><circle cx="546.5" cy="294.75" r="1.28" fill="#8a8a8a"/><circle cx="547.75" cy="275.25" r="1.28" fill="#8a8a8a"/><circle cx="551.5" cy="283.0" r="1.28" fill="#8a8a8a"/><circle cx="552.25" cy="308.5" r="1.28" fill="#8a8a8a"/><circle cx="552.25" cy="323.0" r="1.28" fill="#8a8a8a"/><circle cx="554.5" cy="286.0" r="1.28" fill="#8a8a8a"/><circle cx="561.5" cy="311.75" r="1.28" fill="#8a8a8a"/><circle cx="563.25" cy="294.25" r="1.28" fill="#8a8a8a"/><circle cx="563.5" cy="305.25" r="1.28" fill="#8a8a8a"/><circle cx="565.25" cy="275.25" r="1.28" fill="#8a8a8a"/><circle cx="567.75" cy="287.75" r="1.28" fill="#8a8a8a"/><circle cx="572.25" cy="321.0" r="1.28" fill="#8a8a8a"/><circle cx="574.0" cy="294.25" r="1.28" fill="#8a8a8a"/><circle cx="574.75" cy="266.0" r="1.28" fill="#8a8a8a"/><circle cx="574.75" cy="288.0" r="1.28" fill="#8a8a8a"/><circle cx="579.0" cy="282.75" r="1.28" fill="#8a8a8a"/><circle cx="581.5" cy="299.25" r="1.28" fill="#8a8a8a"/><circle cx="582.75" cy="300.25" r="1.28" fill="#8a8a8a"/><circle cx="585.25" cy="271.0" r="1.28" fill="#8a8a8a"/><circle cx="591.5" cy="287.25" r="1.28" fill="#8a8a8a"/><circle cx="594.5" cy="297.75" r="1.28" fill="#8a8a8a"/><circle cx="606.5" cy="306.0" r="1.28" fill="#8a8a8a"/><circle cx="615.0" cy="284.0" r="1.28" fill="#8a8a8a"/><circle cx="615.25" cy="291.0" r="1.28" fill="#8a8a8a"/><circle cx="614.75" cy="301.0" r="1.28" fill="#8a8a8a"/><circle cx="614.5" cy="314.25" r="1.28" fill="#8a8a8a"/><circle cx="621.5" cy="309.0" r="1.28" fill="#8a8a8a"/><circle cx="647.0" cy="285.5" r="1.28" fill="#8a8a8a"/><circle cx="648.25" cy="291.75" r="1.28" fill="#8a8a8a"/><circle cx="657.25" cy="305.0" r="1.28" fill="#8a8a8a"/><circle cx="666.0" cy="271.0" r="1.28" fill="#8a8a8a"/><circle cx="672.0" cy="299.75" r="1.28" fill="#8a8a8a"/><circle cx="677.75" cy="302.75" r="1.28" fill="#8a8a8a"/><circle cx="680.75" cy="301.0" r="1.28" fill="#8a8a8a"/><rect x="600.6" y="321.0" width="64.5" height="10.4" rx="1.5" fill="#fff" stroke="#4f72ae" stroke-width="1"/><text x="632.9" y="328.6" font-size="6.7" fill="#000" text-anchor="middle" xml:space="preserve" stroke="#000" stroke-width="0.15">r(52) = <tspan fill="#f0201a" stroke="#f0201a">.14</tspan>, p <tspan fill="#f0201a" stroke="#f0201a">&gt; .05</tspan></text><line x1="19.5" y1="351.2" x2="178.8" y2="351.2" stroke="#f7f7f7" stroke-width="0.7"/><line x1="19.5" y1="376.6" x2="178.8" y2="376.6" stroke="#f7f7f7" stroke-width="0.7"/><line x1="19.5" y1="401.7" x2="178.8" y2="401.7" stroke="#f7f7f7" stroke-width="0.7"/><line x1="19.5" y1="427.2" x2="178.8" y2="427.2" stroke="#f7f7f7" stroke-width="0.7"/><line x1="19.5" y1="452.8" x2="178.8" y2="452.8" stroke="#f7f7f7" stroke-width="0.7"/><text x="13.0" y="353.7" font-size="4.75" fill="#111" stroke="#111" stroke-width="0.18">45</text><text x="13.0" y="379.1" font-size="4.75" fill="#111" stroke="#111" stroke-width="0.18">40</text><text x="13.0" y="404.2" font-size="4.75" fill="#111" stroke="#111" stroke-width="0.18">35</text><text x="13.0" y="429.7" font-size="4.75" fill="#111" stroke="#111" stroke-width="0.18">30</text><text x="13.0" y="455.3" font-size="4.75" fill="#111" stroke="#111" stroke-width="0.18">25</text><text x="27.7" y="457.6" font-size="5.0" fill="#111" stroke="#111" stroke-width="0.18" text-anchor="middle">2.2</text><text x="43.0" y="457.6" font-size="5.0" fill="#111" stroke="#111" stroke-width="0.18" text-anchor="middle">2.4</text><text x="58.2" y="457.6" font-size="5.0" fill="#111" stroke="#111" stroke-width="0.18" text-anchor="middle">2.6</text><text x="73.5" y="457.6" font-size="5.0" fill="#111" stroke="#111" stroke-width="0.18" text-anchor="middle">2.8</text><text x="88.7" y="457.6" font-size="5.0" fill="#111" stroke="#111" stroke-width="0.18" text-anchor="middle">3</text><text x="104.0" y="457.6" font-size="5.0" fill="#111" stroke="#111" stroke-width="0.18" text-anchor="middle">3.2</text><text x="119.3" y="457.6" font-size="5.0" fill="#111" stroke="#111" stroke-width="0.18" text-anchor="middle">3.4</text><text x="134.5" y="457.6" font-size="5.0" fill="#111" stroke="#111" stroke-width="0.18" text-anchor="middle">3.6</text><text x="149.8" y="457.6" font-size="5.0" fill="#111" stroke="#111" stroke-width="0.18" text-anchor="middle">3.8</text><text x="165.0" y="457.6" font-size="5.0" fill="#111" stroke="#111" stroke-width="0.18" text-anchor="middle">4</text><text x="175.8" y="457.6" font-size="5.0" fill="#111" stroke="#111" stroke-width="0.18" text-anchor="middle">4.2</text><text x="98.6" y="355.1" font-size="6.65" fill="#000" text-anchor="middle" stroke="#000" stroke-width="0.15">CW, c=0.007</text><line x1="19.6" y1="400.5" x2="176.8" y2="417.3" stroke="#f4a0a0" stroke-width="0.8"/><text x="126.25" y="409.10" font-size="5.0" fill="#111" stroke="#111" stroke-width="0.15" text-anchor="middle" transform="rotate(6.1 126.25 407.5)">slope=-1.6</text><circle cx="20.0" cy="409.25" r="1.28" fill="#d8363c"/><circle cx="20.75" cy="414.25" r="1.28" fill="#d8363c"/><circle cx="21.75" cy="399.25" r="1.28" fill="#d8363c"/><circle cx="22.5" cy="398.5" r="1.28" fill="#d8363c"/><circle cx="23.25" cy="411.75" r="1.28" fill="#d8363c"/><circle cx="24.25" cy="410.0" r="1.28" fill="#d8363c"/><circle cx="25.0" cy="396.25" r="1.28" fill="#d8363c"/><circle cx="26.75" cy="401.75" r="1.28" fill="#d8363c"/><circle cx="28.0" cy="390.0" r="1.28" fill="#d8363c"/><circle cx="30.5" cy="386.25" r="1.28" fill="#d8363c"/><circle cx="31.25" cy="390.0" r="1.28" fill="#d8363c"/><circle cx="32.0" cy="404.25" r="1.28" fill="#d8363c"/><circle cx="32.5" cy="401.75" r="1.28" fill="#d8363c"/><circle cx="33.25" cy="402.25" r="1.28" fill="#d8363c"/><circle cx="33.75" cy="363.75" r="1.28" fill="#d8363c"/><circle cx="33.75" cy="423.5" r="1.28" fill="#d8363c"/><circle cx="34.25" cy="414.25" r="1.28" fill="#d8363c"/><circle cx="34.5" cy="416.0" r="1.28" fill="#d8363c"/><circle cx="35.0" cy="402.25" r="1.28" fill="#d8363c"/><circle cx="38.0" cy="410.0" r="1.28" fill="#d8363c"/><circle cx="39.25" cy="438.5" r="1.28" fill="#d8363c"/><circle cx="42.0" cy="388.0" r="1.28" fill="#d8363c"/><circle cx="43.25" cy="373.75" r="1.28" fill="#d8363c"/><circle cx="47.5" cy="381.75" r="1.28" fill="#d8363c"/><circle cx="47.5" cy="431.75" r="1.28" fill="#d8363c"/><circle cx="48.25" cy="415.5" r="1.28" fill="#d8363c"/><circle cx="50.0" cy="406.0" r="1.28" fill="#d8363c"/><circle cx="57.0" cy="415.5" r="1.28" fill="#d8363c"/><circle cx="58.25" cy="410.5" r="1.28" fill="#d8363c"/><circle cx="59.25" cy="413.5" r="1.28" fill="#d8363c"/><circle cx="60.75" cy="382.5" r="1.28" fill="#d8363c"/><circle cx="63.0" cy="388.5" r="1.28" fill="#d8363c"/><circle cx="67.5" cy="417.5" r="1.28" fill="#d8363c"/><circle cx="69.5" cy="388.0" r="1.28" fill="#d8363c"/><circle cx="70.0" cy="375.0" r="1.28" fill="#d8363c"/><circle cx="70.0" cy="396.25" r="1.28" fill="#d8363c"/><circle cx="74.25" cy="414.25" r="1.28" fill="#d8363c"/><circle cx="77.0" cy="421.0" r="1.28" fill="#d8363c"/><circle cx="78.75" cy="403.75" r="1.28" fill="#d8363c"/><circle cx="80.75" cy="391.75" r="1.28" fill="#d8363c"/><circle cx="87.5" cy="407.25" r="1.28" fill="#d8363c"/><circle cx="90.0" cy="420.0" r="1.28" fill="#d8363c"/><circle cx="102.0" cy="411.75" r="1.28" fill="#d8363c"/><circle cx="110.75" cy="397.5" r="1.28" fill="#d8363c"/><circle cx="110.75" cy="400.0" r="1.28" fill="#d8363c"/><circle cx="110.75" cy="402.25" r="1.28" fill="#d8363c"/><circle cx="110.0" cy="421.75" r="1.28" fill="#d8363c"/><circle cx="116.75" cy="422.25" r="1.28" fill="#d8363c"/><circle cx="142.5" cy="403.75" r="1.28" fill="#d8363c"/><circle cx="143.75" cy="409.25" r="1.28" fill="#d8363c"/><circle cx="152.5" cy="424.75" r="1.28" fill="#d8363c"/><circle cx="161.25" cy="396.75" r="1.28" fill="#d8363c"/><circle cx="167.5" cy="426.75" r="1.28" fill="#d8363c"/><circle cx="173.0" cy="431.0" r="1.28" fill="#d8363c"/><circle cx="175.75" cy="423.75" r="1.28" fill="#d8363c"/><rect x="91.2" y="428.9" width="67.3" height="10.4" rx="1.5" fill="#fff" stroke="#4f72ae" stroke-width="1"/><text x="124.8" y="436.5" font-size="6.7" fill="#000" text-anchor="middle" xml:space="preserve" stroke="#000" stroke-width="0.15">r(52) = <tspan fill="#f0201a" stroke="#f0201a">-.30</tspan>, p &lt; .05</text><line x1="187.8" y1="364.6" x2="346.9" y2="364.6" stroke="#f7f7f7" stroke-width="0.7"/><line x1="187.8" y1="382.5" x2="346.9" y2="382.5" stroke="#f7f7f7" stroke-width="0.7"/><line x1="187.8" y1="400.2" x2="346.9" y2="400.2" stroke="#f7f7f7" stroke-width="0.7"/><line x1="187.8" y1="417.8" x2="346.9" y2="417.8" stroke="#f7f7f7" stroke-width="0.7"/><line x1="187.8" y1="435.0" x2="346.9" y2="435.0" stroke="#f7f7f7" stroke-width="0.7"/><line x1="187.8" y1="452.4" x2="346.9" y2="452.4" stroke="#f7f7f7" stroke-width="0.7"/><text x="181.3" y="367.1" font-size="4.75" fill="#111" stroke="#111" stroke-width="0.18">80</text><text x="181.3" y="385.0" font-size="4.75" fill="#111" stroke="#111" stroke-width="0.18">77</text><text x="181.3" y="402.7" font-size="4.75" fill="#111" stroke="#111" stroke-width="0.18">74</text><text x="181.3" y="420.3" font-size="4.75" fill="#111" stroke="#111" stroke-width="0.18">71</text><text x="181.3" y="437.5" font-size="4.75" fill="#111" stroke="#111" stroke-width="0.18">68</text><text x="181.3" y="454.9" font-size="4.75" fill="#111" stroke="#111" stroke-width="0.18">65</text><text x="196.0" y="457.6" font-size="5.0" fill="#111" stroke="#111" stroke-width="0.18" text-anchor="middle">2.2</text><text x="211.3" y="457.6" font-size="5.0" fill="#111" stroke="#111" stroke-width="0.18" text-anchor="middle">2.4</text><text x="226.7" y="457.6" font-size="5.0" fill="#111" stroke="#111" stroke-width="0.18" text-anchor="middle">2.6</text><text x="242.0" y="457.6" font-size="5.0" fill="#111" stroke="#111" stroke-width="0.18" text-anchor="middle">2.8</text><text x="257.4" y="457.6" font-size="5.0" fill="#111" stroke="#111" stroke-width="0.18" text-anchor="middle">3</text><text x="272.7" y="457.6" font-size="5.0" fill="#111" stroke="#111" stroke-width="0.18" text-anchor="middle">3.2</text><text x="288.0" y="457.6" font-size="5.0" fill="#111" stroke="#111" stroke-width="0.18" text-anchor="middle">3.4</text><text x="303.4" y="457.6" font-size="5.0" fill="#111" stroke="#111" stroke-width="0.18" text-anchor="middle">3.6</text><text x="318.7" y="457.6" font-size="5.0" fill="#111" stroke="#111" stroke-width="0.18" text-anchor="middle">3.8</text><text x="334.1" y="457.6" font-size="5.0" fill="#111" stroke="#111" stroke-width="0.18" text-anchor="middle">4</text><text x="343.9" y="457.6" font-size="5.0" fill="#111" stroke="#111" stroke-width="0.18" text-anchor="middle">4.2</text><text x="262.2" y="355.1" font-size="6.65" fill="#000" text-anchor="middle" stroke="#000" stroke-width="0.15">Gaussian noise, σ<tspan font-size="4.6" dy="-2.3">2</tspan><tspan dy="2.3">=0.01</tspan></text><line x1="187.4" y1="405.1" x2="344.3" y2="388.7" stroke="#ffdc98" stroke-width="0.8"/><text x="300" y="389.35" font-size="5.0" fill="#111" stroke="#111" stroke-width="0.15" text-anchor="middle" transform="rotate(-6.0 300 387.75)">slope=1.4</text><circle cx="188.25" cy="405.5" r="1.28" fill="#fdbf1c"/><circle cx="189.75" cy="405.5" r="1.28" fill="#fdbf1c"/><circle cx="190.25" cy="400.5" r="1.28" fill="#fdbf1c"/><circle cx="191.5" cy="404.25" r="1.28" fill="#fdbf1c"/><circle cx="192.75" cy="405.5" r="1.28" fill="#fdbf1c"/><circle cx="193.25" cy="401.0" r="1.28" fill="#fdbf1c"/><circle cx="194.75" cy="401.0" r="1.28" fill="#fdbf1c"/><circle cx="195.75" cy="394.25" r="1.28" fill="#fdbf1c"/><circle cx="198.5" cy="408.0" r="1.28" fill="#fdbf1c"/><circle cx="199.0" cy="396.25" r="1.28" fill="#fdbf1c"/><circle cx="200.25" cy="410.0" r="1.28" fill="#fdbf1c"/><circle cx="201.0" cy="402.5" r="1.28" fill="#fdbf1c"/><circle cx="201.5" cy="395.5" r="1.28" fill="#fdbf1c"/><circle cx="201.5" cy="411.0" r="1.28" fill="#fdbf1c"/><circle cx="202.0" cy="403.0" r="1.28" fill="#fdbf1c"/><circle cx="202.25" cy="412.25" r="1.28" fill="#fdbf1c"/><circle cx="202.75" cy="400.5" r="1.28" fill="#fdbf1c"/><circle cx="203.25" cy="399.25" r="1.28" fill="#fdbf1c"/><circle cx="206.0" cy="417.25" r="1.28" fill="#fdbf1c"/><circle cx="207.0" cy="410.0" r="1.28" fill="#fdbf1c"/><circle cx="209.75" cy="401.25" r="1.28" fill="#fdbf1c"/><circle cx="211.5" cy="388.0" r="1.28" fill="#fdbf1c"/><circle cx="215.25" cy="407.5" r="1.28" fill="#fdbf1c"/><circle cx="215.25" cy="412.25" r="1.28" fill="#fdbf1c"/><circle cx="216.0" cy="393.75" r="1.28" fill="#fdbf1c"/><circle cx="217.75" cy="406.0" r="1.28" fill="#fdbf1c"/><circle cx="224.75" cy="398.0" r="1.28" fill="#fdbf1c"/><circle cx="226.5" cy="403.5" r="1.28" fill="#fdbf1c"/><circle cx="227.0" cy="412.25" r="1.28" fill="#fdbf1c"/><circle cx="229.0" cy="403.0" r="1.28" fill="#fdbf1c"/><circle cx="231.0" cy="398.0" r="1.28" fill="#fdbf1c"/><circle cx="235.25" cy="409.25" r="1.28" fill="#fdbf1c"/><circle cx="237.25" cy="399.25" r="1.28" fill="#fdbf1c"/><circle cx="237.75" cy="407.25" r="1.28" fill="#fdbf1c"/><circle cx="238.25" cy="387.5" r="1.28" fill="#fdbf1c"/><circle cx="242.25" cy="404.25" r="1.28" fill="#fdbf1c"/><circle cx="244.75" cy="401.75" r="1.28" fill="#fdbf1c"/><circle cx="246.5" cy="395.5" r="1.28" fill="#fdbf1c"/><circle cx="248.5" cy="405.0" r="1.28" fill="#fdbf1c"/><circle cx="255.25" cy="395.0" r="1.28" fill="#fdbf1c"/><circle cx="257.75" cy="389.75" r="1.28" fill="#fdbf1c"/><circle cx="269.75" cy="390.5" r="1.28" fill="#fdbf1c"/><circle cx="277.75" cy="377.5" r="1.28" fill="#fdbf1c"/><circle cx="278.25" cy="382.25" r="1.28" fill="#fdbf1c"/><circle cx="278.25" cy="390.5" r="1.28" fill="#fdbf1c"/><circle cx="278.5" cy="391.75" r="1.28" fill="#fdbf1c"/><circle cx="284.75" cy="393.75" r="1.28" fill="#fdbf1c"/><circle cx="309.5" cy="393.0" r="1.28" fill="#fdbf1c"/><circle cx="311.5" cy="401.75" r="1.28" fill="#fdbf1c"/><circle cx="320.5" cy="386.75" r="1.28" fill="#fdbf1c"/><circle cx="329.0" cy="410.0" r="1.28" fill="#fdbf1c"/><circle cx="335.25" cy="393.0" r="1.28" fill="#fdbf1c"/><circle cx="340.75" cy="382.25" r="1.28" fill="#fdbf1c"/><circle cx="344.0" cy="384.25" r="1.28" fill="#fdbf1c"/><rect x="262.7" y="429.1" width="65.0" height="10.3" rx="1.5" fill="#fff" stroke="#4f72ae" stroke-width="1"/><text x="295.2" y="436.6" font-size="6.7" fill="#000" text-anchor="middle" xml:space="preserve" stroke="#000" stroke-width="0.15">r(52) = .55, p &lt; .05</text><line x1="355.9" y1="364.6" x2="515.6" y2="364.6" stroke="#f7f7f7" stroke-width="0.7"/><line x1="355.9" y1="382.5" x2="515.6" y2="382.5" stroke="#f7f7f7" stroke-width="0.7"/><line x1="355.9" y1="400.2" x2="515.6" y2="400.2" stroke="#f7f7f7" stroke-width="0.7"/><line x1="355.9" y1="417.8" x2="515.6" y2="417.8" stroke="#f7f7f7" stroke-width="0.7"/><line x1="355.9" y1="435.0" x2="515.6" y2="435.0" stroke="#f7f7f7" stroke-width="0.7"/><line x1="355.9" y1="452.4" x2="515.6" y2="452.4" stroke="#f7f7f7" stroke-width="0.7"/><text x="349.4" y="367.1" font-size="4.75" fill="#111" stroke="#111" stroke-width="0.18">76</text><text x="349.4" y="385.0" font-size="4.75" fill="#111" stroke="#111" stroke-width="0.18">74</text><text x="349.4" y="402.7" font-size="4.75" fill="#111" stroke="#111" stroke-width="0.18">72</text><text x="349.4" y="420.3" font-size="4.75" fill="#111" stroke="#111" stroke-width="0.18">70</text><text x="349.4" y="437.5" font-size="4.75" fill="#111" stroke="#111" stroke-width="0.18">68</text><text x="349.4" y="454.9" font-size="4.75" fill="#111" stroke="#111" stroke-width="0.18">66</text><text x="363.6" y="457.6" font-size="5.0" fill="#111" stroke="#111" stroke-width="0.18" text-anchor="middle">2.2</text><text x="379.0" y="457.6" font-size="5.0" fill="#111" stroke="#111" stroke-width="0.18" text-anchor="middle">2.4</text><text x="394.3" y="457.6" font-size="5.0" fill="#111" stroke="#111" stroke-width="0.18" text-anchor="middle">2.6</text><text x="409.7" y="457.6" font-size="5.0" fill="#111" stroke="#111" stroke-width="0.18" text-anchor="middle">2.8</text><text x="425.0" y="457.6" font-size="5.0" fill="#111" stroke="#111" stroke-width="0.18" text-anchor="middle">3</text><text x="440.4" y="457.6" font-size="5.0" fill="#111" stroke="#111" stroke-width="0.18" text-anchor="middle">3.2</text><text x="455.8" y="457.6" font-size="5.0" fill="#111" stroke="#111" stroke-width="0.18" text-anchor="middle">3.4</text><text x="471.1" y="457.6" font-size="5.0" fill="#111" stroke="#111" stroke-width="0.18" text-anchor="middle">3.6</text><text x="486.5" y="457.6" font-size="5.0" fill="#111" stroke="#111" stroke-width="0.18" text-anchor="middle">3.8</text><text x="501.8" y="457.6" font-size="5.0" fill="#111" stroke="#111" stroke-width="0.18" text-anchor="middle">4</text><text x="512.6" y="457.6" font-size="5.0" fill="#111" stroke="#111" stroke-width="0.18" text-anchor="middle">4.2</text><text x="431.1" y="355.1" font-size="6.65" fill="#000" text-anchor="middle" stroke="#000" stroke-width="0.15">Speckle noise, σ<tspan font-size="4.6" dy="-2.3">2</tspan><tspan dy="2.3">=0.05</tspan></text><line x1="355.4" y1="412" x2="512.3" y2="383.8" stroke="#90c4ec" stroke-width="0.8"/><text x="468" y="388.60" font-size="5.0" fill="#111" stroke="#111" stroke-width="0.15" text-anchor="middle" transform="rotate(-10.2 468 387)">slope=1.5</text><circle cx="355.75" cy="415.5" r="1.28" fill="#2f8ad0"/><circle cx="357.0" cy="411.75" r="1.28" fill="#2f8ad0"/><circle cx="357.75" cy="399.25" r="1.28" fill="#2f8ad0"/><circle cx="359.0" cy="414.75" r="1.28" fill="#2f8ad0"/><circle cx="360.25" cy="414.25" r="1.28" fill="#2f8ad0"/><circle cx="360.75" cy="407.5" r="1.28" fill="#2f8ad0"/><circle cx="362.75" cy="400.5" r="1.28" fill="#2f8ad0"/><circle cx="363.75" cy="390.0" r="1.28" fill="#2f8ad0"/><circle cx="366.5" cy="422.5" r="1.28" fill="#2f8ad0"/><circle cx="367.0" cy="395.5" r="1.28" fill="#2f8ad0"/><circle cx="367.75" cy="417.5" r="1.28" fill="#2f8ad0"/><circle cx="368.25" cy="409.25" r="1.28" fill="#2f8ad0"/><circle cx="369.5" cy="401.25" r="1.28" fill="#2f8ad0"/><circle cx="369.5" cy="396.75" r="1.28" fill="#2f8ad0"/><circle cx="369.5" cy="423.75" r="1.28" fill="#2f8ad0"/><circle cx="370.0" cy="418.75" r="1.28" fill="#2f8ad0"/><circle cx="370.25" cy="406.25" r="1.28" fill="#2f8ad0"/><circle cx="370.75" cy="404.25" r="1.28" fill="#2f8ad0"/><circle cx="374.0" cy="431.75" r="1.28" fill="#2f8ad0"/><circle cx="375.0" cy="419.75" r="1.28" fill="#2f8ad0"/><circle cx="377.75" cy="396.25" r="1.28" fill="#2f8ad0"/><circle cx="379.0" cy="374.25" r="1.28" fill="#2f8ad0"/><circle cx="383.25" cy="413.5" r="1.28" fill="#2f8ad0"/><circle cx="383.25" cy="432.25" r="1.28" fill="#2f8ad0"/><circle cx="384.0" cy="400.0" r="1.28" fill="#2f8ad0"/><circle cx="385.75" cy="414.75" r="1.28" fill="#2f8ad0"/><circle cx="392.75" cy="402.25" r="1.28" fill="#2f8ad0"/><circle cx="394.5" cy="413.75" r="1.28" fill="#2f8ad0"/><circle cx="395.0" cy="424.75" r="1.28" fill="#2f8ad0"/><circle cx="396.5" cy="410.0" r="1.28" fill="#2f8ad0"/><circle cx="399.0" cy="404.25" r="1.28" fill="#2f8ad0"/><circle cx="403.25" cy="420.0" r="1.28" fill="#2f8ad0"/><circle cx="405.25" cy="410.0" r="1.28" fill="#2f8ad0"/><circle cx="405.75" cy="388.75" r="1.28" fill="#2f8ad0"/><circle cx="405.75" cy="405.0" r="1.28" fill="#2f8ad0"/><circle cx="410.0" cy="409.25" r="1.28" fill="#2f8ad0"/><circle cx="412.75" cy="408.5" r="1.28" fill="#2f8ad0"/><circle cx="414.5" cy="396.0" r="1.28" fill="#2f8ad0"/><circle cx="416.5" cy="406.75" r="1.28" fill="#2f8ad0"/><circle cx="423.25" cy="396.75" r="1.28" fill="#2f8ad0"/><circle cx="425.75" cy="386.75" r="1.28" fill="#2f8ad0"/><circle cx="437.75" cy="392.5" r="1.28" fill="#2f8ad0"/><circle cx="445.75" cy="369.25" r="1.28" fill="#2f8ad0"/><circle cx="446.5" cy="371.25" r="1.28" fill="#2f8ad0"/><circle cx="446.25" cy="387.5" r="1.28" fill="#2f8ad0"/><circle cx="446.25" cy="392.25" r="1.28" fill="#2f8ad0"/><circle cx="452.5" cy="391.75" r="1.28" fill="#2f8ad0"/><circle cx="477.5" cy="393.75" r="1.28" fill="#2f8ad0"/><circle cx="479.5" cy="406.0" r="1.28" fill="#2f8ad0"/><circle cx="488.75" cy="386.0" r="1.28" fill="#2f8ad0"/><circle cx="497.5" cy="414.25" r="1.28" fill="#2f8ad0"/><circle cx="503.25" cy="393.0" r="1.28" fill="#2f8ad0"/><circle cx="508.75" cy="375.5" r="1.28" fill="#2f8ad0"/><circle cx="512.0" cy="375.5" r="1.28" fill="#2f8ad0"/><rect x="431.4" y="429.1" width="65.0" height="10.3" rx="1.5" fill="#fff" stroke="#4f72ae" stroke-width="1"/><text x="463.9" y="436.6" font-size="6.7" fill="#000" text-anchor="middle" xml:space="preserve" stroke="#000" stroke-width="0.15">r(52) = .53, p &lt; .05</text><line x1="524.6" y1="355.4" x2="683.5" y2="355.4" stroke="#f7f7f7" stroke-width="0.7"/><line x1="524.6" y1="371.4" x2="683.5" y2="371.4" stroke="#f7f7f7" stroke-width="0.7"/><line x1="524.6" y1="387.4" x2="683.5" y2="387.4" stroke="#f7f7f7" stroke-width="0.7"/><line x1="524.6" y1="403.5" x2="683.5" y2="403.5" stroke="#f7f7f7" stroke-width="0.7"/><line x1="524.6" y1="420.3" x2="683.5" y2="420.3" stroke="#f7f7f7" stroke-width="0.7"/><line x1="524.6" y1="436.3" x2="683.5" y2="436.3" stroke="#f7f7f7" stroke-width="0.7"/><line x1="524.6" y1="452.8" x2="683.5" y2="452.8" stroke="#f7f7f7" stroke-width="0.7"/><text x="518.1" y="357.9" font-size="4.75" fill="#111" stroke="#111" stroke-width="0.18">59</text><text x="518.1" y="373.9" font-size="4.75" fill="#111" stroke="#111" stroke-width="0.18">55</text><text x="518.1" y="389.9" font-size="4.75" fill="#111" stroke="#111" stroke-width="0.18">51</text><text x="518.1" y="406.0" font-size="4.75" fill="#111" stroke="#111" stroke-width="0.18">47</text><text x="518.1" y="422.8" font-size="4.75" fill="#111" stroke="#111" stroke-width="0.18">43</text><text x="518.1" y="438.8" font-size="4.75" fill="#111" stroke="#111" stroke-width="0.18">39</text><text x="518.1" y="455.3" font-size="4.75" fill="#111" stroke="#111" stroke-width="0.18">35</text><text x="533.1" y="457.6" font-size="5.0" fill="#111" stroke="#111" stroke-width="0.18" text-anchor="middle">2.2</text><text x="548.3" y="457.6" font-size="5.0" fill="#111" stroke="#111" stroke-width="0.18" text-anchor="middle">2.4</text><text x="563.5" y="457.6" font-size="5.0" fill="#111" stroke="#111" stroke-width="0.18" text-anchor="middle">2.6</text><text x="578.8" y="457.6" font-size="5.0" fill="#111" stroke="#111" stroke-width="0.18" text-anchor="middle">2.8</text><text x="594.0" y="457.6" font-size="5.0" fill="#111" stroke="#111" stroke-width="0.18" text-anchor="middle">3</text><text x="609.2" y="457.6" font-size="5.0" fill="#111" stroke="#111" stroke-width="0.18" text-anchor="middle">3.2</text><text x="624.4" y="457.6" font-size="5.0" fill="#111" stroke="#111" stroke-width="0.18" text-anchor="middle">3.4</text><text x="639.6" y="457.6" font-size="5.0" fill="#111" stroke="#111" stroke-width="0.18" text-anchor="middle">3.6</text><text x="654.9" y="457.6" font-size="5.0" fill="#111" stroke="#111" stroke-width="0.18" text-anchor="middle">3.8</text><text x="670.1" y="457.6" font-size="5.0" fill="#111" stroke="#111" stroke-width="0.18" text-anchor="middle">4</text><text x="680.5" y="457.6" font-size="5.0" fill="#111" stroke="#111" stroke-width="0.18" text-anchor="middle">4.2</text><text x="602.6" y="355.1" font-size="6.65" fill="#000" text-anchor="middle" stroke="#000" stroke-width="0.15">S&amp;P noise, s_<tspan font-style="italic">vs</tspan>_<tspan font-style="italic">p</tspan>=0.5</text><line x1="524.6" y1="393.6" x2="680.8" y2="385.2" stroke="#d0b0ec" stroke-width="0.8"/><text x="638.25" y="384.10" font-size="5.0" fill="#111" stroke="#111" stroke-width="0.15" text-anchor="middle" transform="rotate(-3.1 638.25 382.5)">slope=0.9</text><circle cx="524.75" cy="402.25" r="1.28" fill="#8350b8"/><circle cx="526.0" cy="395.0" r="1.28" fill="#8350b8"/><circle cx="527.0" cy="383.5" r="1.28" fill="#8350b8"/><circle cx="527.75" cy="382.5" r="1.28" fill="#8350b8"/><circle cx="528.5" cy="383.0" r="1.28" fill="#8350b8"/><circle cx="529.75" cy="405.5" r="1.28" fill="#8350b8"/><circle cx="531.0" cy="394.75" r="1.28" fill="#8350b8"/><circle cx="532.0" cy="373.75" r="1.28" fill="#8350b8"/><circle cx="532.75" cy="396.0" r="1.28" fill="#8350b8"/><circle cx="534.0" cy="382.5" r="1.28" fill="#8350b8"/><circle cx="534.5" cy="377.25" r="1.28" fill="#8350b8"/><circle cx="535.75" cy="383.5" r="1.28" fill="#8350b8"/><circle cx="536.5" cy="400.5" r="1.28" fill="#8350b8"/><circle cx="537.0" cy="401.0" r="1.28" fill="#8350b8"/><circle cx="537.75" cy="390.5" r="1.28" fill="#8350b8"/><circle cx="538.25" cy="391.75" r="1.28" fill="#8350b8"/><circle cx="538.25" cy="394.25" r="1.28" fill="#8350b8"/><circle cx="538.5" cy="370.5" r="1.28" fill="#8350b8"/><circle cx="539.0" cy="401.0" r="1.28" fill="#8350b8"/><circle cx="539.75" cy="398.5" r="1.28" fill="#8350b8"/><circle cx="542.75" cy="406.75" r="1.28" fill="#8350b8"/><circle cx="544.0" cy="390.5" r="1.28" fill="#8350b8"/><circle cx="546.5" cy="383.5" r="1.28" fill="#8350b8"/><circle cx="548.25" cy="370.5" r="1.28" fill="#8350b8"/><circle cx="552.0" cy="402.5" r="1.28" fill="#8350b8"/><circle cx="552.75" cy="432.5" r="1.28" fill="#8350b8"/><circle cx="553.25" cy="398.0" r="1.28" fill="#8350b8"/><circle cx="554.75" cy="376.75" r="1.28" fill="#8350b8"/><circle cx="562.0" cy="389.25" r="1.28" fill="#8350b8"/><circle cx="563.5" cy="402.25" r="1.28" fill="#8350b8"/><circle cx="564.0" cy="413.0" r="1.28" fill="#8350b8"/><circle cx="565.75" cy="386.0" r="1.28" fill="#8350b8"/><circle cx="567.75" cy="402.25" r="1.28" fill="#8350b8"/><circle cx="572.25" cy="393.0" r="1.28" fill="#8350b8"/><circle cx="574.0" cy="395.5" r="1.28" fill="#8350b8"/><circle cx="574.75" cy="376.75" r="1.28" fill="#8350b8"/><circle cx="575.25" cy="394.25" r="1.28" fill="#8350b8"/><circle cx="579.5" cy="381.0" r="1.28" fill="#8350b8"/><circle cx="582.0" cy="409.25" r="1.28" fill="#8350b8"/><circle cx="583.5" cy="395.0" r="1.28" fill="#8350b8"/><circle cx="585.75" cy="376.75" r="1.28" fill="#8350b8"/><circle cx="592.25" cy="375.5" r="1.28" fill="#8350b8"/><circle cx="594.5" cy="377.5" r="1.28" fill="#8350b8"/><circle cx="607.0" cy="402.25" r="1.28" fill="#8350b8"/><circle cx="615.25" cy="368.0" r="1.28" fill="#8350b8"/><circle cx="615.25" cy="379.25" r="1.28" fill="#8350b8"/><circle cx="615.25" cy="386.0" r="1.28" fill="#8350b8"/><circle cx="615.25" cy="393.0" r="1.28" fill="#8350b8"/><circle cx="621.5" cy="378.5" r="1.28" fill="#8350b8"/><circle cx="647.25" cy="396.75" r="1.28" fill="#8350b8"/><circle cx="649.0" cy="411.75" r="1.28" fill="#8350b8"/><circle cx="657.75" cy="387.5" r="1.28" fill="#8350b8"/><circle cx="666.5" cy="369.25" r="1.28" fill="#8350b8"/><circle cx="672.75" cy="400.5" r="1.28" fill="#8350b8"/><circle cx="678.0" cy="384.25" r="1.28" fill="#8350b8"/><circle cx="681.0" cy="378.0" r="1.28" fill="#8350b8"/><rect x="600.6" y="428.9" width="65.2" height="10.4" rx="1.5" fill="#fff" stroke="#4f72ae" stroke-width="1"/><text x="633.2" y="436.5" font-size="6.7" fill="#000" text-anchor="middle" xml:space="preserve" stroke="#000" stroke-width="0.15">r(52) = <tspan fill="#f0201a" stroke="#f0201a">.16</tspan>, p <tspan fill="#f0201a" stroke="#f0201a">&gt; .05</tspan></text><line x1="179.8" y1="0.5" x2="179.8" y2="225.3" stroke="#a0a0a0" stroke-width="1.3"/><line x1="347.9" y1="0.5" x2="347.9" y2="225.3" stroke="#a0a0a0" stroke-width="1.3"/><line x1="516.6" y1="0.5" x2="516.6" y2="225.3" stroke="#a0a0a0" stroke-width="1.3"/><line x1="11.5" y1="112.8" x2="684.5" y2="112.8" stroke="#a0a0a0" stroke-width="1.3"/><rect x="11.5" y="0.5" width="673.0" height="224.8" fill="none" stroke="#666" stroke-width="1"/><line x1="179.8" y1="233.5" x2="179.8" y2="458.0" stroke="#a0a0a0" stroke-width="1.3"/><line x1="347.9" y1="233.5" x2="347.9" y2="458.0" stroke="#a0a0a0" stroke-width="1.3"/><line x1="516.6" y1="233.5" x2="516.6" y2="458.0" stroke="#a0a0a0" stroke-width="1.3"/><line x1="11.5" y1="345.5" x2="684.5" y2="345.5" stroke="#a0a0a0" stroke-width="1.3"/><rect x="11.5" y="233.5" width="673.0" height="224.5" fill="none" stroke="#666" stroke-width="1"/><line x1="0" y1="229.6" x2="685" y2="229.6" stroke="#000" stroke-width="1.3"/><text x="1.7" y="224.9" font-size="10.6" font-weight="bold" fill="#000" stroke="#000" stroke-width="0.3">a</text><text x="1.7" y="242.2" font-size="10.6" font-weight="bold" fill="#000" stroke="#000" stroke-width="0.3">b</text><line x1="5.7" y1="268" x2="5.7" y2="402" stroke="#000" stroke-width="1.9"/><polygon points="5.7,262 1.8,270.3 9.6,270.3" fill="#000"/><text transform="translate(9.3 456) rotate(-90)" font-size="11.3" fill="#000" stroke="#000" stroke-width="0.2">Accuracy</text><text x="11.8" y="468.9" font-size="11.3" letter-spacing="0.2" fill="#000" stroke="#000" stroke-width="0.2">Entropy</text><line x1="56" y1="467" x2="274" y2="467" stroke="#000" stroke-width="2.4"/><polygon points="280,467 272.6,463.1 272.6,470.9" fill="#000"/></svg>
</body></html>
